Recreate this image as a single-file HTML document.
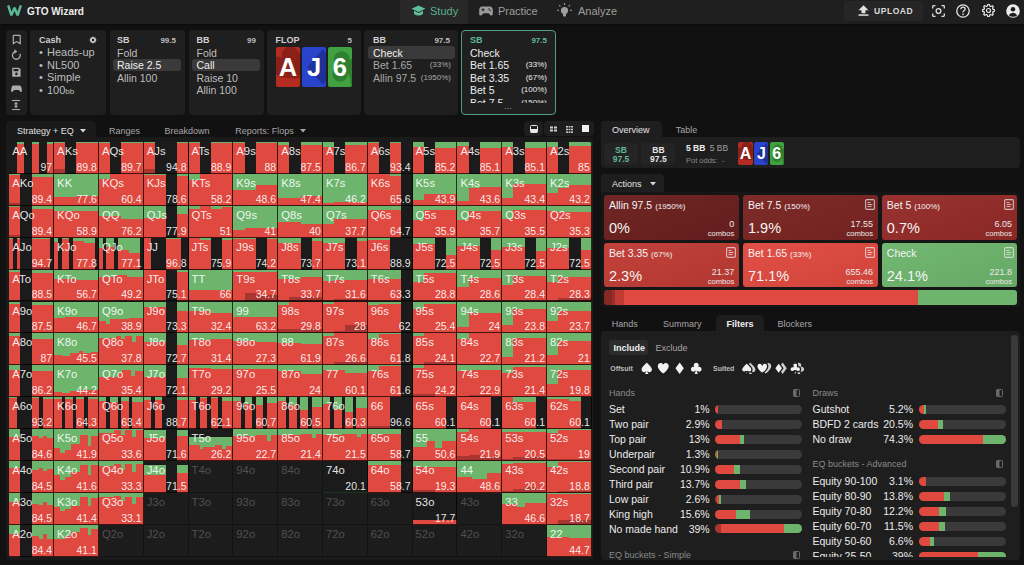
<!DOCTYPE html>
<html><head><meta charset="utf-8">
<style>
*{margin:0;padding:0;box-sizing:border-box}
html,body{width:1024px;height:565px;overflow:hidden;background:#111111;font-family:"Liberation Sans",sans-serif;color:#e6e6e6}
.a{position:absolute}
.hdr{left:0;top:0;width:1024px;height:24px;background:#1f1f1f;box-shadow:0 1px 2px rgba(0,0,0,.5)}
.pnl{background:#1f1f1f;border-radius:4px}
.t11{font-size:11px;line-height:12.5px}
.hl{background:#3a3a3a;border-radius:3px}
.cl{position:absolute;display:flex;overflow:hidden;}
.cl i{display:block;height:100%}.cl::after{content:"";position:absolute;left:0;top:0;right:0;bottom:0;border-right:1px solid rgba(0,0,0,.72);border-bottom:1px solid rgba(0,0,0,.72)}
.cl.e{background:#1c1c1c}
.lb{position:absolute;left:3px;top:4px;font-size:11.3px;line-height:11px;color:rgba(255,255,255,.9)}
.e .lb{color:#505050}.cl.e::after{border-color:rgba(0,0,0,.3)}
.eq{position:absolute;right:2px;bottom:2px;font-size:10.5px;line-height:10px;color:rgba(255,255,255,.9)}
.hd{font-size:9px;font-weight:bold;color:#cfcfcf}
.num{font-size:8px;font-weight:bold;color:#bdbdbd}
.card{position:absolute;border-radius:2px;color:#fff;font-weight:bold;text-align:center;overflow:hidden}
.tile{position:absolute;border-radius:3px;color:#f4f4f4;background-image:linear-gradient(160deg,rgba(255,255,255,.035),rgba(0,0,0,.07))}
.tile .tt{position:absolute;left:5px;top:4.8px;font-size:10.5px;line-height:11px}
.tile .tt small{font-size:8px}
.tile .pc{position:absolute;left:5px;top:26px;font-size:14.5px;line-height:15px}
.tile .cb{position:absolute;right:5px;top:23.5px;font-size:9px;line-height:10px;text-align:right;color:#e8e8e8}.tile .cb small{font-size:7.6px;display:block;line-height:10px}
.tile svg{position:absolute;right:4px;top:4px}
.row{position:absolute;font-size:10.5px;line-height:12px;color:#ececec}
.bar{position:absolute;height:9px;border-radius:4.5px;background:#3a3a3a;overflow:hidden;display:flex}
.bar i{display:block;height:100%}
.sec{position:absolute;font-size:9px;color:#8a8a8a}
</style></head><body>
<!-- header -->
<div class="a hdr"></div>
<svg class="a" style="left:6px;top:4px" width="17" height="13" viewBox="0 0 17 13"><polyline points="2.2,1.3 5.4,11.3 8.5,3.8 11.6,11.3 14.8,1.3" fill="none" stroke="#5bb894" stroke-width="2.5" stroke-linejoin="miter" stroke-miterlimit="2"/></svg>
<div class="a" style="left:27px;top:5.5px;font-size:10px;font-weight:bold;color:#ededed;line-height:11px">GTO Wizard</div>
<div class="a" style="left:400px;top:0;width:68px;height:24px;background:#282828"></div>
<svg class="a" style="left:411px;top:5px" width="15" height="12" viewBox="0 0 15 12"><path d="M7.5 0.5 L14.5 3.8 L7.5 7 L0.5 3.8 Z" fill="#5fbf9c"/><path d="M3 5.8 L3 9 Q7.5 12 12 9 L12 5.8 L7.5 8 Z" fill="#5fbf9c"/></svg>
<div class="a" style="left:430px;top:5px;font-size:11px;line-height:12px;color:#5ab08f">Study</div>
<svg class="a" style="left:479px;top:6px" width="14" height="10" viewBox="0 0 14 10"><path d="M3 0.5 L11 0.5 Q13.5 0.5 13.8 4 L13.8 8 Q13.6 9.8 11.8 9.5 L9.5 7.3 L4.5 7.3 L2.2 9.5 Q0.4 9.8 0.2 8 L0.2 4 Q0.5 0.5 3 0.5 Z" fill="#9a9a9a"/><rect x="2.5" y="3.3" width="3" height="1" fill="#1c1c1c"/><rect x="3.5" y="2.3" width="1" height="3" fill="#1c1c1c"/><circle cx="10" cy="3" r="0.7" fill="#1c1c1c"/><circle cx="11" cy="4.5" r="0.7" fill="#1c1c1c"/></svg>
<div class="a" style="left:498px;top:5px;font-size:11px;line-height:12px;color:#9e9e9e">Practice</div>
<svg class="a" style="left:557px;top:3px" width="15" height="15" viewBox="0 0 15 15"><circle cx="7.5" cy="7.5" r="3.6" fill="#a0a0a0"/><rect x="6" y="10" width="3" height="3.5" rx="0.8" fill="#a0a0a0"/><g stroke="#a0a0a0" stroke-width="1.1"><line x1="7.5" y1="0" x2="7.5" y2="2"/><line x1="2.2" y1="2.2" x2="3.4" y2="3.4"/><line x1="12.8" y1="2.2" x2="11.6" y2="3.4"/><line x1="0" y1="7.3" x2="2" y2="7.3"/><line x1="13" y1="7.3" x2="15" y2="7.3"/></g></svg>
<div class="a" style="left:578px;top:5px;font-size:11px;line-height:12px;color:#9e9e9e">Analyze</div>
<div class="a" style="left:844px;top:1px;width:79px;height:20px;background:#262626;border-radius:3px"></div>
<svg class="a" style="left:858px;top:5px" width="11" height="11" viewBox="0 0 11 11"><path d="M5.5 0.3 L10.5 5.3 L7.5 5.3 L7.5 8.3 L3.5 8.3 L3.5 5.3 L0.5 5.3 Z" fill="#e0e0e0"/><rect x="0.5" y="9.3" width="10" height="1.5" fill="#e0e0e0"/></svg>
<div class="a" style="left:874px;top:5.5px;font-size:8.5px;line-height:10px;font-weight:bold;letter-spacing:0.55px;color:#dcdcdc">UPLOAD</div>
<svg class="a" style="left:932px;top:4.5px" width="13" height="12" viewBox="0 0 13 12"><g fill="none" stroke="#e0e0e0" stroke-width="1.3"><path d="M0.7 3.5 V1.5 Q0.7 0.7 1.5 0.7 H3.5"/><path d="M9.5 0.7 H11.5 Q12.3 0.7 12.3 1.5 V3.5"/><path d="M12.3 8.5 V10.5 Q12.3 11.3 11.5 11.3 H9.5"/><path d="M3.5 11.3 H1.5 Q0.7 11.3 0.7 10.5 V8.5"/><circle cx="6.5" cy="6" r="2.4"/></g></svg>
<svg class="a" style="left:956px;top:4px" width="14" height="14" viewBox="0 0 14 14"><circle cx="7" cy="7" r="6.2" fill="none" stroke="#e6e6e6" stroke-width="1.3"/><path d="M4.9 5.3 Q4.9 3.2 7 3.2 Q9.1 3.2 9.1 5.1 Q9.1 6.3 7.6 7 Q7 7.3 7 8.4" fill="none" stroke="#e6e6e6" stroke-width="1.3"/><circle cx="7" cy="10.4" r="0.8" fill="#e6e6e6"/></svg>
<svg class="a" style="left:981.5px;top:4px" width="13" height="13" viewBox="0 0 13 13"><polygon points="5.89,0.33 7.11,0.33 7.84,2.10 8.67,2.44 10.43,1.71 11.29,2.57 10.56,4.33 10.90,5.16 12.67,5.89 12.67,7.11 10.90,7.84 10.56,8.67 11.29,10.43 10.43,11.29 8.67,10.56 7.84,10.90 7.11,12.67 5.89,12.67 5.16,10.90 4.33,10.56 2.57,11.29 1.71,10.43 2.44,8.67 2.10,7.84 0.33,7.11 0.33,5.89 2.10,5.16 2.44,4.33 1.71,2.57 2.57,1.71 4.33,2.44 5.16,2.10" fill="none" stroke="#e6e6e6" stroke-width="1.2" stroke-linejoin="round"/><circle cx="6.5" cy="6.5" r="2" fill="none" stroke="#e6e6e6" stroke-width="1.2"/></svg>
<svg class="a" style="left:1006px;top:4px" width="14" height="14" viewBox="0 0 14 14"><circle cx="7" cy="7" r="6.8" fill="#ececec"/><circle cx="7" cy="5.2" r="2.3" fill="#1c1c1c"/><path d="M2.8 11.3 Q4 8.7 7 8.7 Q10 8.7 11.2 11.3 Q9.5 12.8 7 12.8 Q4.5 12.8 2.8 11.3 Z" fill="#1c1c1c"/></svg>

<!-- top panels -->
<div class="a pnl" style="left:6px;top:30px;width:20.5px;height:84.5px"></div>
<svg class="a" style="left:11px;top:34px" width="11" height="78" viewBox="0 0 11 78">
 <path d="M2.3 1.9 Q2.3 1.3 2.9 1.3 H8.6 Q9.2 1.3 9.2 1.9 V9.6 L5.75 7.6 L2.3 9.6 Z" fill="none" stroke="#ababab" stroke-width="1.2"/>
 <path d="M8.9 19.7 A3.9 3.9 0 1 1 4.3 17.6" fill="none" stroke="#ababab" stroke-width="1.3"/><path d="M3.2 15.3 L6.4 17.4 L3.6 19.8 Z" fill="#ababab"/>
 <path d="M1.2 34.4 Q1.2 33.8 1.8 33.8 H8 L9.6 35.4 V42.2 Q9.6 42.8 9 42.8 H1.8 Q1.2 42.8 1.2 42.2 Z" fill="#ababab"/><rect x="2.6" y="35" width="4.8" height="2.2" fill="#1f1f1f"/><circle cx="5.4" cy="39.9" r="1.3" fill="#1f1f1f"/>
 <path d="M2.6 51.6 H8.4 Q10.2 51.6 10.6 54 L10.9 56.8 Q10.9 58.2 9.7 58 L7.8 56 H3.2 L1.3 58 Q0.1 58.2 0.1 56.8 L0.4 54 Q0.8 51.6 2.6 51.6 Z" fill="#ababab"/>
 <g stroke="#ababab" stroke-width="1.1" fill="none"><line x1="1" y1="66.5" x2="9" y2="66.5"/><line x1="1" y1="75.5" x2="9" y2="75.5"/><line x1="5" y1="68.5" x2="5" y2="73.5"/></g>
 <path d="M5 67.9 L7.2 70.3 H2.8 Z M5 74.1 L7.2 71.7 H2.8 Z" fill="#ababab"/>
</svg>

<div class="a pnl" style="left:30px;top:30px;width:76px;height:84.5px"></div>
<div class="a hd" style="left:39px;top:35px;line-height:10px">Cash</div>
<svg class="a" style="left:89px;top:36px" width="8" height="8" viewBox="0 0 8 8"><path d="M4 0.3 L5 1.4 L6.6 1.4 L6.6 3 L7.7 4 L6.6 5 L6.6 6.6 L5 6.6 L4 7.7 L3 6.6 L1.4 6.6 L1.4 5 L0.3 4 L1.4 3 L1.4 1.4 L3 1.4 Z" fill="#c8c8c8"/><circle cx="4" cy="4" r="1.2" fill="#1f1f1f"/></svg>
<div class="a t11" style="left:39px;top:46px;color:#bdbdbd">
 <div><span style="display:inline-block;width:8px">&#8226;</span>Heads-up</div>
 <div><span style="display:inline-block;width:8px">&#8226;</span>NL500</div>
 <div><span style="display:inline-block;width:8px">&#8226;</span>Simple</div>
 <div><span style="display:inline-block;width:8px">&#8226;</span>100<span style="font-size:8px">bb</span></div>
</div>

<div class="a pnl" style="left:109.5px;top:30px;width:75.5px;height:84.5px"></div>
<div class="a hd" style="left:117px;top:35px;line-height:10px">SB</div>
<div class="a num" style="left:150px;top:36px;width:26px;text-align:right;line-height:9px">99.5</div>
<div class="a hl" style="left:113px;top:58.7px;width:68px;height:12.5px"></div>
<div class="a t11" style="font-size:10.5px;left:117px;top:46.5px;color:#bdbdbd"><div>Fold</div><div style="color:#f0f0f0">Raise 2.5</div><div>Allin 100</div></div>

<div class="a pnl" style="left:188.5px;top:30px;width:75px;height:84.5px"></div>
<div class="a hd" style="left:196.5px;top:35px;line-height:10px">BB</div>
<div class="a num" style="left:230px;top:36px;width:26px;text-align:right;line-height:9px">99</div>
<div class="a hl" style="left:192px;top:58.7px;width:68px;height:12.5px"></div>
<div class="a t11" style="font-size:10.5px;left:196.5px;top:46.5px;color:#bdbdbd"><div>Fold</div><div style="color:#f0f0f0">Call</div><div>Raise 10</div><div>Allin 100</div></div>

<div class="a pnl" style="left:267.3px;top:30px;width:93.4px;height:84.5px"></div>
<div class="a hd" style="left:275.5px;top:35px;line-height:10px">FLOP</div>
<div class="a num" style="left:330px;top:36px;width:22px;text-align:right;line-height:9px">5</div>
<div class="card" style="left:276px;top:47.3px;width:24px;height:40px;background:#b52c22"><svg style="position:absolute;left:0;top:0" width="24" height="40" viewBox="0 0 24 40" preserveAspectRatio="none"><path d="M12 22 C12 22 1.5 14.5 1.5 8 C1.5 4.5 4 2 7 2 C9.2 2 11 3.3 12 5 C13 3.3 14.8 2 17 2 C20 2 22.5 4.5 22.5 8 C22.5 14.5 12 22 12 22 Z" fill="#8a2018" transform="translate(13 19) rotate(-40) scale(1.6) translate(-12 -12)"/></svg><div style="position:absolute;left:0;width:24px;top:0;height:40px;line-height:40px;font-size:25.5px">A</div></div><div class="card" style="left:302px;top:47.3px;width:24px;height:40px;background:#2a43cc"><svg style="position:absolute;left:0;top:0" width="24" height="40" viewBox="0 0 24 40" preserveAspectRatio="none"><path d="M12 1 L20 12 L12 23 L4 12 Z" fill="#1e3199" transform="translate(20.7 20) scale(1.94 1.6) translate(-12 -12)"/></svg><div style="position:absolute;left:0;width:24px;top:0;height:40px;line-height:40px;font-size:25.5px">J</div></div><div class="card" style="left:327.5px;top:47.3px;width:24.5px;height:40px;background:#3fa13f"><svg style="position:absolute;left:0;top:0" width="24.5" height="40" viewBox="0 0 24 40" preserveAspectRatio="none"><path d="M12 1.5 C9.2 1.5 7.2 3.7 7.2 6.3 C7.2 7.5 7.6 8.5 8.3 9.3 C7.8 9.1 7.2 9 6.5 9 C3.8 9 1.8 11.2 1.8 13.8 C1.8 16.5 3.9 18.6 6.5 18.6 C8.5 18.6 10.2 17.5 11 15.8 C10.8 18.8 10 21 8.5 23 H15.5 C14 21 13.2 18.8 13 15.8 C13.8 17.5 15.5 18.6 17.5 18.6 C20.1 18.6 22.2 16.5 22.2 13.8 C22.2 11.2 20.2 9 17.5 9 C16.8 9 16.2 9.1 15.7 9.3 C16.4 8.5 16.8 7.5 16.8 6.3 C16.8 3.7 14.8 1.5 12 1.5 Z" fill="#2f7f31" transform="translate(18 20) rotate(-30) scale(1.6) translate(-12 -12)"/></svg><div style="position:absolute;left:0;width:24.5px;top:0;height:40px;line-height:40px;font-size:25.5px">6</div></div>

<div class="a pnl" style="left:364px;top:30px;width:93.7px;height:84.5px"></div>
<div class="a hd" style="left:373px;top:35px;line-height:10px">BB</div>
<div class="a num" style="left:420px;top:36px;width:30px;text-align:right;line-height:9px">97.5</div>
<div class="a hl" style="left:368px;top:46.4px;width:87px;height:12.6px"></div>
<div class="a t11" style="font-size:10.5px;left:373px;top:46.5px;color:#a9a9a9;width:78px">
 <div style="color:#f0f0f0">Check</div>
 <div style="display:flex;justify-content:space-between">Bet 1.65<span style="font-size:8px">(33%)</span></div>
 <div style="display:flex;justify-content:space-between">Allin 97.5<span style="font-size:8px">(1950%)</span></div>
</div>

<div class="a" style="left:461px;top:30px;width:95px;height:84.7px;background:#1f1f1f;border:1.5px solid #4f9f86;border-radius:4px"></div>
<div class="a hd" style="left:470px;top:35px;line-height:10px;color:#5fb898">SB</div>
<div class="a num" style="left:515px;top:36px;width:32px;text-align:right;line-height:9px;color:#5fb898">97.5</div>
<div class="a t11" style="font-size:10.5px;left:470px;top:46.5px;color:#ededed;width:77px;height:56.5px;overflow:hidden">
 <div>Check</div>
 <div style="display:flex;justify-content:space-between">Bet 1.65<span style="font-size:8px">(33%)</span></div>
 <div style="display:flex;justify-content:space-between">Bet 3.35<span style="font-size:8px">(67%)</span></div>
 <div style="display:flex;justify-content:space-between">Bet 5<span style="font-size:8px">(100%)</span></div>
 <div style="display:flex;justify-content:space-between">Bet 7.5<span style="font-size:8px">(150%)</span></div>
</div>
<div class="a" style="left:504px;top:102px;font-size:9px;color:#9a9a9a;line-height:8px">...</div>

<!-- left grid area -->
<div class="a" style="left:6px;top:137px;width:586.7px;height:423px;background:#1a1a1a;border-radius:0 4px 4px 4px"></div>
<div class="a" style="left:6px;top:121.3px;width:89.7px;height:17px;background:#1a1a1a;border-radius:4px 4px 0 0"></div>
<div class="a" style="left:17px;top:125.5px;font-size:9px;line-height:10px;color:#e0e0e0">Strategy + EQ</div>
<svg class="a" style="left:80px;top:128.5px" width="6" height="4" viewBox="0 0 6 4"><path d="M0 0 H6 L3 3.5 Z" fill="#d8d8d8"/></svg>
<div class="a" style="left:109px;top:125.5px;font-size:9px;line-height:10px;color:#a6a6a6">Ranges</div>
<div class="a" style="left:164.5px;top:125.5px;font-size:9px;line-height:10px;color:#a6a6a6">Breakdown</div>
<div class="a" style="left:235.3px;top:125.5px;font-size:9px;line-height:10px;color:#a6a6a6">Reports: Flops</div>
<svg class="a" style="left:300px;top:128.5px" width="6" height="4" viewBox="0 0 6 4"><path d="M0 0 H6 L3 3.5 Z" fill="#a6a6a6"/></svg>
<div class="a" style="left:524px;top:121.3px;width:18.5px;height:15px;background:#1e1e1e;border-radius:4px"></div>
<div class="a" style="left:544px;top:121.3px;width:50px;height:15px;background:#1e1e1e;border-radius:4px"></div>
<svg class="a" style="left:529.5px;top:125px" width="8" height="8" viewBox="0 0 8 8"><rect x="0.5" y="0.5" width="7" height="7" rx="1" fill="none" stroke="#e8e8e8" stroke-width="1"/><rect x="0.5" y="4" width="7" height="3.5" fill="#e8e8e8"/></svg>
<svg class="a" style="left:549.5px;top:126px" width="7" height="6" viewBox="0 0 7 6"><g fill="#cfcfcf"><rect x="0" y="0.5" width="3" height="2"/><rect x="4" y="0.5" width="3" height="2"/><rect x="0" y="3.5" width="3" height="2"/><rect x="4" y="3.5" width="3" height="2"/></g></svg>
<svg class="a" style="left:565.5px;top:125.5px" width="7" height="7" viewBox="0 0 7 7"><g fill="#cfcfcf"><rect x="0" y="0" width="7" height="1.5"/><rect x="0" y="2.7" width="7" height="1.5"/><rect x="0" y="5.4" width="7" height="1.5"/></g><g fill="#1e1e1e"><rect x="2" y="0" width="0.6" height="7"/><rect x="4.4" y="0" width="0.6" height="7"/></g></svg>
<svg class="a" style="left:581.5px;top:125px" width="8" height="8" viewBox="0 0 8 8"><rect x="0" y="0" width="7" height="7" fill="#f0f0f0"/></svg>
<div class="a" style="left:9.3px;top:142px;width:582.5px;height:414.7px;border-radius:3px;overflow:hidden;background:#151515">
<div style="position:absolute;left:-9.3px;top:-142px;width:1024px;height:565px">
<div class="cl" style="left:9.30px;top:142.00px;width:44.81px;height:31.90px"><i style="width:16.667%;background:#1b1b1b"></i><i style="width:16.667%;background:linear-gradient(180deg,#6db56d 0.0% 5.0%,#e0493f 5.0% 100.0%)"></i><i style="width:16.667%;background:#1b1b1b"></i><i style="width:16.667%;background:linear-gradient(180deg,#6db56d 0.0% 5.0%,#e0493f 5.0% 100.0%)"></i><i style="width:16.667%;background:#1b1b1b"></i><i style="width:16.667%;background:linear-gradient(180deg,#6db56d 0.0% 5.0%,#e0493f 5.0% 100.0%)"></i><span class="lb">AA</span><span class="eq">97</span></div><div class="cl" style="left:54.11px;top:142.00px;width:44.81px;height:31.90px"><i style="width:25.000%;background:linear-gradient(180deg,#6db56d 0.0% 3.0%,#e0493f 3.0% 85.0%,#a83530 85.0% 100%)"></i><i style="width:25.000%;background:#1b1b1b"></i><i style="width:50.000%;background:linear-gradient(180deg,#6db56d 0.0% 2.0%,#e0493f 2.0% 100.0%)"></i><span class="lb">AKs</span><span class="eq">89.8</span></div><div class="cl" style="left:98.92px;top:142.00px;width:44.81px;height:31.90px"><i style="width:25.000%;background:linear-gradient(180deg,#6db56d 0.0% 4.0%,#e0493f 4.0% 100.0%)"></i><i style="width:25.000%;background:#1b1b1b"></i><i style="width:50.000%;background:linear-gradient(180deg,#6db56d 0.0% 2.0%,#e0493f 2.0% 100.0%)"></i><span class="lb">AQs</span><span class="eq">89.7</span></div><div class="cl" style="left:143.72px;top:142.00px;width:44.81px;height:31.90px"><i style="width:25.000%;background:linear-gradient(180deg,#6db56d 0.0% 2.0%,#e0493f 2.0% 85.0%,#a83530 85.0% 100%)"></i><i style="width:50.000%;background:#1b1b1b"></i><i style="width:25.000%;background:linear-gradient(180deg,#6db56d 0.0% 2.0%,#e0493f 2.0% 100.0%)"></i><span class="lb">AJs</span><span class="eq">94.8</span></div><div class="cl" style="left:188.53px;top:142.00px;width:44.81px;height:31.90px"><i style="width:25.000%;background:linear-gradient(180deg,#6db56d 0.0% 3.0%,#e0493f 3.0% 100.0%)"></i><i style="width:25.000%;background:#1b1b1b"></i><i style="width:50.000%;background:linear-gradient(180deg,#6db56d 0.0% 3.0%,#e0493f 3.0% 100.0%)"></i><span class="lb">ATs</span><span class="eq">88.9</span></div><div class="cl" style="left:233.34px;top:142.00px;width:44.81px;height:31.90px"><i style="width:25.000%;background:linear-gradient(180deg,#6db56d 0.0% 3.0%,#e0493f 3.0% 100.0%)"></i><i style="width:25.000%;background:#1b1b1b"></i><i style="width:50.000%;background:linear-gradient(180deg,#6db56d 0.0% 2.0%,#e0493f 2.0% 100.0%)"></i><span class="lb">A9s</span><span class="eq">88</span></div><div class="cl" style="left:278.15px;top:142.00px;width:44.81px;height:31.90px"><i style="width:25.000%;background:linear-gradient(180deg,#6db56d 0.0% 8.0%,#e0493f 8.0% 100.0%)"></i><i style="width:25.000%;background:#1b1b1b"></i><i style="width:50.000%;background:linear-gradient(180deg,#6db56d 0.0% 8.0%,#e0493f 8.0% 100.0%)"></i><span class="lb">A8s</span><span class="eq">87.5</span></div><div class="cl" style="left:322.95px;top:142.00px;width:44.81px;height:31.90px"><i style="width:25.000%;background:linear-gradient(180deg,#6db56d 0.0% 15.0%,#e0493f 15.0% 100.0%)"></i><i style="width:25.000%;background:#1b1b1b"></i><i style="width:50.000%;background:linear-gradient(180deg,#6db56d 0.0% 10.0%,#e0493f 10.0% 100.0%)"></i><span class="lb">A7s</span><span class="eq">86.7</span></div><div class="cl" style="left:367.76px;top:142.00px;width:44.81px;height:31.90px"><i style="width:25.000%;background:linear-gradient(180deg,#6db56d 0.0% 3.0%,#e0493f 3.0% 100.0%)"></i><i style="width:25.000%;background:#1b1b1b"></i><i style="width:25.000%;background:linear-gradient(180deg,#6db56d 0.0% 3.0%,#e0493f 3.0% 100.0%)"></i><i style="width:25.000%;background:#1b1b1b"></i><span class="lb">A6s</span><span class="eq">93.4</span></div><div class="cl" style="left:412.57px;top:142.00px;width:44.81px;height:31.90px"><i style="width:25.000%;background:linear-gradient(180deg,#6db56d 0.0% 15.0%,#e0493f 15.0% 100.0%)"></i><i style="width:25.000%;background:#1b1b1b"></i><i style="width:50.000%;background:linear-gradient(180deg,#6db56d 0.0% 18.0%,#e0493f 18.0% 100.0%)"></i><span class="lb">A5s</span><span class="eq">85.2</span></div><div class="cl" style="left:457.38px;top:142.00px;width:44.81px;height:31.90px"><i style="width:25.000%;background:linear-gradient(180deg,#6db56d 0.0% 12.0%,#e0493f 12.0% 100.0%)"></i><i style="width:25.000%;background:#1b1b1b"></i><i style="width:50.000%;background:linear-gradient(180deg,#6db56d 0.0% 20.0%,#e0493f 20.0% 100.0%)"></i><span class="lb">A4s</span><span class="eq">85.1</span></div><div class="cl" style="left:502.18px;top:142.00px;width:44.81px;height:31.90px"><i style="width:25.000%;background:linear-gradient(180deg,#6db56d 0.0% 15.0%,#e0493f 15.0% 100.0%)"></i><i style="width:25.000%;background:#1b1b1b"></i><i style="width:50.000%;background:linear-gradient(180deg,#6db56d 0.0% 18.0%,#e0493f 18.0% 100.0%)"></i><span class="lb">A3s</span><span class="eq">85.1</span></div><div class="cl" style="left:546.99px;top:142.00px;width:44.81px;height:31.90px"><i style="width:25.000%;background:linear-gradient(180deg,#6db56d 0.0% 15.0%,#e0493f 15.0% 100.0%)"></i><i style="width:25.000%;background:#1b1b1b"></i><i style="width:50.000%;background:linear-gradient(180deg,#6db56d 0.0% 12.0%,#e0493f 12.0% 100.0%)"></i><span class="lb">A2s</span><span class="eq">85</span></div><div class="cl" style="left:9.30px;top:173.90px;width:44.81px;height:31.90px"><i style="width:25.000%;background:linear-gradient(180deg,#6db56d 0.0% 3.0%,#e0493f 3.0% 92.0%,#a83530 92.0% 100%)"></i><i style="width:25.000%;background:#1b1b1b"></i><i style="width:50.000%;background:linear-gradient(180deg,#6db56d 0.0% 8.0%,#e0493f 8.0% 100.0%)"></i><span class="lb">AKo</span><span class="eq">89.4</span></div><div class="cl" style="left:54.11px;top:173.90px;width:44.81px;height:31.90px"><i style="width:50.000%;background:linear-gradient(180deg,#6db56d 0.0% 72.0%,#e0493f 72.0% 100.0%)"></i><i style="width:50.000%;background:linear-gradient(180deg,#6db56d 0.0% 70.0%,#e0493f 70.0% 100.0%)"></i><span class="lb">KK</span><span class="eq">77.6</span></div><div class="cl" style="left:98.92px;top:173.90px;width:44.81px;height:31.90px"><i style="width:25.000%;background:linear-gradient(180deg,#6db56d 0.0% 15.0%,#e0493f 15.0% 100.0%)"></i><i style="width:75.000%;background:linear-gradient(180deg,#6db56d 0.0% 0.0%,#e0493f 0.0% 100.0%)"></i><span class="lb">KQs</span><span class="eq">60.4</span></div><div class="cl" style="left:143.72px;top:173.90px;width:44.81px;height:31.90px"><i style="width:50.000%;background:linear-gradient(180deg,#6db56d 0.0% 2.0%,#e0493f 2.0% 100.0%)"></i><i style="width:25.000%;background:#1b1b1b"></i><i style="width:25.000%;background:linear-gradient(180deg,#6db56d 0.0% 5.0%,#e0493f 5.0% 100.0%)"></i><span class="lb">KJs</span><span class="eq">78.6</span></div><div class="cl" style="left:188.53px;top:173.90px;width:44.81px;height:31.90px"><i style="width:25.000%;background:linear-gradient(180deg,#6db56d 0.0% 18.0%,#e0493f 18.0% 100.0%)"></i><i style="width:75.000%;background:linear-gradient(180deg,#6db56d 0.0% 0.0%,#e0493f 0.0% 100.0%)"></i><span class="lb">KTs</span><span class="eq">58.2</span></div><div class="cl" style="left:233.34px;top:173.90px;width:44.81px;height:31.90px"><i style="width:50.000%;background:linear-gradient(180deg,#6db56d 0.0% 50.0%,#e0493f 50.0% 100.0%)"></i><i style="width:50.000%;background:linear-gradient(180deg,#6db56d 0.0% 33.0%,#e0493f 33.0% 100.0%)"></i><span class="lb">K9s</span><span class="eq">48.6</span></div><div class="cl" style="left:278.15px;top:173.90px;width:44.81px;height:31.90px"><i style="width:50.000%;background:linear-gradient(180deg,#6db56d 0.0% 75.0%,#e0493f 75.0% 100.0%)"></i><i style="width:50.000%;background:linear-gradient(180deg,#6db56d 0.0% 68.0%,#e0493f 68.0% 100.0%)"></i><span class="lb">K8s</span><span class="eq">47.4</span></div><div class="cl" style="left:322.95px;top:173.90px;width:44.81px;height:31.90px"><i style="width:25.000%;background:linear-gradient(180deg,#6db56d 0.0% 92.0%,#e0493f 92.0% 100.0%)"></i><i style="width:75.000%;background:linear-gradient(180deg,#6db56d 0.0% 88.0%,#e0493f 88.0% 100.0%)"></i><span class="lb">K7s</span><span class="eq">46.2</span></div><div class="cl" style="left:367.76px;top:173.90px;width:44.81px;height:31.90px"><i style="width:50.000%;background:linear-gradient(180deg,#6db56d 0.0% 0.0%,#e0493f 0.0% 100.0%)"></i><i style="width:25.000%;background:linear-gradient(180deg,#6db56d 0.0% 5.0%,#e0493f 5.0% 100.0%)"></i><i style="width:25.000%;background:#1b1b1b"></i><span class="lb">K6s</span><span class="eq">65.6</span></div><div class="cl" style="left:412.57px;top:173.90px;width:44.81px;height:31.90px"><i style="width:25.000%;background:linear-gradient(180deg,#6db56d 0.0% 81.0%,#e0493f 81.0% 100.0%)"></i><i style="width:75.000%;background:linear-gradient(180deg,#6db56d 0.0% 62.0%,#e0493f 62.0% 100.0%)"></i><span class="lb">K5s</span><span class="eq">43.9</span></div><div class="cl" style="left:457.38px;top:173.90px;width:44.81px;height:31.90px"><i style="width:25.000%;background:linear-gradient(180deg,#6db56d 0.0% 85.0%,#e0493f 85.0% 100.0%)"></i><i style="width:25.000%;background:linear-gradient(180deg,#6db56d 0.0% 45.0%,#e0493f 45.0% 100.0%)"></i><i style="width:50.000%;background:linear-gradient(180deg,#6db56d 0.0% 42.0%,#e0493f 42.0% 100.0%)"></i><span class="lb">K4s</span><span class="eq">43.6</span></div><div class="cl" style="left:502.18px;top:173.90px;width:44.81px;height:31.90px"><i style="width:25.000%;background:linear-gradient(180deg,#6db56d 0.0% 74.0%,#e0493f 74.0% 100.0%)"></i><i style="width:75.000%;background:linear-gradient(180deg,#6db56d 0.0% 30.0%,#e0493f 30.0% 100.0%)"></i><span class="lb">K3s</span><span class="eq">43.4</span></div><div class="cl" style="left:546.99px;top:173.90px;width:44.81px;height:31.90px"><i style="width:25.000%;background:linear-gradient(180deg,#6db56d 0.0% 58.0%,#e0493f 58.0% 100.0%)"></i><i style="width:25.000%;background:linear-gradient(180deg,#6db56d 0.0% 45.0%,#e0493f 45.0% 100.0%)"></i><i style="width:50.000%;background:linear-gradient(180deg,#6db56d 0.0% 35.0%,#e0493f 35.0% 100.0%)"></i><span class="lb">K2s</span><span class="eq">43.2</span></div><div class="cl" style="left:9.30px;top:205.80px;width:44.81px;height:31.90px"><i style="width:25.000%;background:linear-gradient(180deg,#6db56d 0.0% 4.0%,#e0493f 4.0% 92.0%,#a83530 92.0% 100%)"></i><i style="width:25.000%;background:#1b1b1b"></i><i style="width:50.000%;background:linear-gradient(180deg,#6db56d 0.0% 8.0%,#e0493f 8.0% 100.0%)"></i><span class="lb">AQo</span><span class="eq">89.4</span></div><div class="cl" style="left:54.11px;top:205.80px;width:44.81px;height:31.90px"><i style="width:50.000%;background:linear-gradient(180deg,#6db56d 0.0% 17.0%,#e0493f 17.0% 100.0%)"></i><i style="width:50.000%;background:linear-gradient(180deg,#6db56d 0.0% 15.0%,#e0493f 15.0% 100.0%)"></i><span class="lb">KQo</span><span class="eq">58.9</span></div><div class="cl" style="left:98.92px;top:205.80px;width:44.81px;height:31.90px"><i style="width:50.000%;background:linear-gradient(180deg,#6db56d 0.0% 30.0%,#e0493f 30.0% 100.0%)"></i><i style="width:50.000%;background:linear-gradient(180deg,#6db56d 0.0% 42.0%,#e0493f 42.0% 100.0%)"></i><span class="lb">QQ</span><span class="eq">76.2</span></div><div class="cl" style="left:143.72px;top:205.80px;width:44.81px;height:31.90px"><i style="width:50.000%;background:linear-gradient(180deg,#6db56d 0.0% 36.0%,#e0493f 36.0% 100.0%)"></i><i style="width:25.000%;background:#1b1b1b"></i><i style="width:25.000%;background:linear-gradient(180deg,#6db56d 0.0% 25.0%,#e0493f 25.0% 100.0%)"></i><span class="lb">QJs</span><span class="eq">77.9</span></div><div class="cl" style="left:188.53px;top:205.80px;width:44.81px;height:31.90px"><i style="width:25.000%;background:linear-gradient(180deg,#6db56d 0.0% 8.0%,#e0493f 8.0% 100.0%)"></i><i style="width:25.000%;background:linear-gradient(180deg,#6db56d 0.0% 0.0%,#e0493f 0.0% 100.0%)"></i><i style="width:25.000%;background:linear-gradient(180deg,#6db56d 0.0% 8.0%,#e0493f 8.0% 100.0%)"></i><i style="width:25.000%;background:linear-gradient(180deg,#6db56d 0.0% 2.0%,#e0493f 2.0% 100.0%)"></i><span class="lb">QTs</span><span class="eq">51</span></div><div class="cl" style="left:233.34px;top:205.80px;width:44.81px;height:31.90px"><i style="width:25.000%;background:linear-gradient(180deg,#6db56d 0.0% 75.0%,#e0493f 75.0% 100.0%)"></i><i style="width:75.000%;background:linear-gradient(180deg,#6db56d 0.0% 68.0%,#e0493f 68.0% 100.0%)"></i><span class="lb">Q9s</span><span class="eq">41</span></div><div class="cl" style="left:278.15px;top:205.80px;width:44.81px;height:31.90px"><i style="width:50.000%;background:linear-gradient(180deg,#6db56d 0.0% 50.0%,#e0493f 50.0% 100.0%)"></i><i style="width:50.000%;background:linear-gradient(180deg,#6db56d 0.0% 55.0%,#e0493f 55.0% 100.0%)"></i><span class="lb">Q8s</span><span class="eq">40</span></div><div class="cl" style="left:322.95px;top:205.80px;width:44.81px;height:31.90px"><i style="width:25.000%;background:linear-gradient(180deg,#6db56d 0.0% 55.0%,#e0493f 55.0% 100.0%)"></i><i style="width:75.000%;background:linear-gradient(180deg,#6db56d 0.0% 40.0%,#e0493f 40.0% 100.0%)"></i><span class="lb">Q7s</span><span class="eq">37.7</span></div><div class="cl" style="left:367.76px;top:205.80px;width:44.81px;height:31.90px"><i style="width:75.000%;background:linear-gradient(180deg,#6db56d 0.0% 12.0%,#e0493f 12.0% 100.0%)"></i><i style="width:25.000%;background:#1b1b1b"></i><span class="lb">Q6s</span><span class="eq">64.7</span></div><div class="cl" style="left:412.57px;top:205.80px;width:44.81px;height:31.90px"><i style="width:25.000%;background:linear-gradient(180deg,#6db56d 0.0% 45.0%,#e0493f 45.0% 100.0%)"></i><i style="width:75.000%;background:linear-gradient(180deg,#6db56d 0.0% 12.0%,#e0493f 12.0% 100.0%)"></i><span class="lb">Q5s</span><span class="eq">35.9</span></div><div class="cl" style="left:457.38px;top:205.80px;width:44.81px;height:31.90px"><i style="width:25.000%;background:linear-gradient(180deg,#6db56d 0.0% 45.0%,#e0493f 45.0% 100.0%)"></i><i style="width:75.000%;background:linear-gradient(180deg,#6db56d 0.0% 15.0%,#e0493f 15.0% 100.0%)"></i><span class="lb">Q4s</span><span class="eq">35.7</span></div><div class="cl" style="left:502.18px;top:205.80px;width:44.81px;height:31.90px"><i style="width:25.000%;background:linear-gradient(180deg,#6db56d 0.0% 42.0%,#e0493f 42.0% 100.0%)"></i><i style="width:75.000%;background:linear-gradient(180deg,#6db56d 0.0% 12.0%,#e0493f 12.0% 100.0%)"></i><span class="lb">Q3s</span><span class="eq">35.5</span></div><div class="cl" style="left:546.99px;top:205.80px;width:44.81px;height:31.90px"><i style="width:25.000%;background:linear-gradient(180deg,#6db56d 0.0% 15.0%,#e0493f 15.0% 100.0%)"></i><i style="width:75.000%;background:linear-gradient(180deg,#6db56d 0.0% 20.0%,#e0493f 20.0% 100.0%)"></i><span class="lb">Q2s</span><span class="eq">35.3</span></div><div class="cl" style="left:9.30px;top:237.70px;width:44.81px;height:31.90px"><i style="width:8.333%;background:linear-gradient(180deg,#6db56d 0.0% 2.0%,#e0493f 2.0% 100.0%)"></i><i style="width:8.333%;background:#1b1b1b"></i><i style="width:8.333%;background:linear-gradient(180deg,#6db56d 0.0% 2.0%,#e0493f 2.0% 100.0%)"></i><i style="width:25.000%;background:#1b1b1b"></i><i style="width:41.667%;background:linear-gradient(180deg,#6db56d 0.0% 2.0%,#e0493f 2.0% 90.0%,#a83530 90.0% 100%)"></i><i style="width:8.333%;background:#1b1b1b"></i><span class="lb">AJo</span><span class="eq">94.7</span></div><div class="cl" style="left:54.11px;top:237.70px;width:44.81px;height:31.90px"><i style="width:8.333%;background:linear-gradient(180deg,#6db56d 0.0% 14.0%,#e0493f 14.0% 100.0%)"></i><i style="width:8.333%;background:#1b1b1b"></i><i style="width:16.667%;background:linear-gradient(180deg,#6db56d 0.0% 4.0%,#e0493f 4.0% 100.0%)"></i><i style="width:8.333%;background:#1b1b1b"></i><i style="width:25.000%;background:linear-gradient(180deg,#6db56d 0.0% 10.0%,#e0493f 10.0% 100.0%)"></i><i style="width:25.000%;background:linear-gradient(180deg,#6db56d 0.0% 17.0%,#e0493f 17.0% 100.0%)"></i><i style="width:8.333%;background:#1b1b1b"></i><span class="lb">KJo</span><span class="eq">77.8</span></div><div class="cl" style="left:98.92px;top:237.70px;width:44.81px;height:31.90px"><i style="width:8.333%;background:linear-gradient(180deg,#6db56d 0.0% 30.0%,#e0493f 30.0% 100.0%)"></i><i style="width:8.333%;background:#1b1b1b"></i><i style="width:16.667%;background:linear-gradient(180deg,#6db56d 0.0% 28.0%,#e0493f 28.0% 100.0%)"></i><i style="width:8.333%;background:#1b1b1b"></i><i style="width:25.000%;background:linear-gradient(180deg,#6db56d 0.0% 38.0%,#e0493f 38.0% 100.0%)"></i><i style="width:25.000%;background:linear-gradient(180deg,#6db56d 0.0% 46.0%,#e0493f 46.0% 100.0%)"></i><i style="width:8.333%;background:#1b1b1b"></i><span class="lb">QJo</span><span class="eq">77.1</span></div><div class="cl" style="left:143.72px;top:237.70px;width:44.81px;height:31.90px"><i style="width:16.667%;background:linear-gradient(180deg,#6db56d 0.0% 0.0%,#e0493f 0.0% 100.0%)"></i><i style="width:33.333%;background:#1b1b1b"></i><i style="width:33.333%;background:linear-gradient(180deg,#6db56d 0.0% 3.0%,#e0493f 3.0% 100.0%)"></i><i style="width:16.667%;background:#1b1b1b"></i><span class="lb">JJ</span><span class="eq">96.8</span></div><div class="cl" style="left:188.53px;top:237.70px;width:44.81px;height:31.90px"><i style="width:25.000%;background:linear-gradient(180deg,#6db56d 0.0% 0.0%,#e0493f 0.0% 100.0%)"></i><i style="width:25.000%;background:linear-gradient(180deg,#6db56d 0.0% 5.0%,#e0493f 5.0% 100.0%)"></i><i style="width:25.000%;background:#1b1b1b"></i><i style="width:25.000%;background:linear-gradient(180deg,#6db56d 0.0% 5.0%,#e0493f 5.0% 100.0%)"></i><span class="lb">JTs</span><span class="eq">75.9</span></div><div class="cl" style="left:233.34px;top:237.70px;width:44.81px;height:31.90px"><i style="width:50.000%;background:linear-gradient(180deg,#6db56d 0.0% 2.0%,#e0493f 2.0% 100.0%)"></i><i style="width:25.000%;background:#1b1b1b"></i><i style="width:25.000%;background:linear-gradient(180deg,#6db56d 0.0% 2.0%,#e0493f 2.0% 100.0%)"></i><span class="lb">J9s</span><span class="eq">74.2</span></div><div class="cl" style="left:278.15px;top:237.70px;width:44.81px;height:31.90px"><i style="width:50.000%;background:linear-gradient(180deg,#6db56d 0.0% 15.0%,#e0493f 15.0% 100.0%)"></i><i style="width:25.000%;background:#1b1b1b"></i><i style="width:25.000%;background:linear-gradient(180deg,#6db56d 0.0% 8.0%,#e0493f 8.0% 100.0%)"></i><span class="lb">J8s</span><span class="eq">73.7</span></div><div class="cl" style="left:322.95px;top:237.70px;width:44.81px;height:31.90px"><i style="width:50.000%;background:linear-gradient(180deg,#6db56d 0.0% 15.0%,#e0493f 15.0% 100.0%)"></i><i style="width:25.000%;background:#1b1b1b"></i><i style="width:25.000%;background:linear-gradient(180deg,#6db56d 0.0% 10.0%,#e0493f 10.0% 100.0%)"></i><span class="lb">J7s</span><span class="eq">73.1</span></div><div class="cl" style="left:367.76px;top:237.70px;width:44.81px;height:31.90px"><i style="width:50.000%;background:linear-gradient(180deg,#6db56d 0.0% 5.0%,#e0493f 5.0% 100.0%)"></i><i style="width:50.000%;background:#1b1b1b"></i><span class="lb">J6s</span><span class="eq">88.9</span></div><div class="cl" style="left:412.57px;top:237.70px;width:44.81px;height:31.90px"><i style="width:50.000%;background:linear-gradient(180deg,#6db56d 0.0% 18.0%,#e0493f 18.0% 100.0%)"></i><i style="width:25.000%;background:#1b1b1b"></i><i style="width:25.000%;background:linear-gradient(180deg,#6db56d 0.0% 52.0%,#e0493f 52.0% 100.0%)"></i><span class="lb">J5s</span><span class="eq">72.5</span></div><div class="cl" style="left:457.38px;top:237.70px;width:44.81px;height:31.90px"><i style="width:50.000%;background:linear-gradient(180deg,#6db56d 0.0% 25.0%,#e0493f 25.0% 100.0%)"></i><i style="width:25.000%;background:#1b1b1b"></i><i style="width:25.000%;background:linear-gradient(180deg,#6db56d 0.0% 38.0%,#e0493f 38.0% 100.0%)"></i><span class="lb">J4s</span><span class="eq">72.5</span></div><div class="cl" style="left:502.18px;top:237.70px;width:44.81px;height:31.90px"><i style="width:50.000%;background:linear-gradient(180deg,#6db56d 0.0% 28.0%,#e0493f 28.0% 100.0%)"></i><i style="width:25.000%;background:#1b1b1b"></i><i style="width:25.000%;background:linear-gradient(180deg,#6db56d 0.0% 42.0%,#e0493f 42.0% 100.0%)"></i><span class="lb">J3s</span><span class="eq">72.5</span></div><div class="cl" style="left:546.99px;top:237.70px;width:44.81px;height:31.90px"><i style="width:50.000%;background:linear-gradient(180deg,#6db56d 0.0% 30.0%,#e0493f 30.0% 100.0%)"></i><i style="width:25.000%;background:#1b1b1b"></i><i style="width:25.000%;background:linear-gradient(180deg,#6db56d 0.0% 38.0%,#e0493f 38.0% 100.0%)"></i><span class="lb">J2s</span><span class="eq">72.5</span></div><div class="cl" style="left:9.30px;top:269.60px;width:44.81px;height:31.90px"><i style="width:25.000%;background:linear-gradient(180deg,#6db56d 0.0% 8.0%,#e0493f 8.0% 100.0%)"></i><i style="width:25.000%;background:#1b1b1b"></i><i style="width:50.000%;background:linear-gradient(180deg,#6db56d 0.0% 10.0%,#e0493f 10.0% 100.0%)"></i><span class="lb">ATo</span><span class="eq">88.5</span></div><div class="cl" style="left:54.11px;top:269.60px;width:44.81px;height:31.90px"><i style="width:50.000%;background:linear-gradient(180deg,#6db56d 0.0% 29.0%,#e0493f 29.0% 100.0%)"></i><i style="width:50.000%;background:linear-gradient(180deg,#6db56d 0.0% 32.0%,#e0493f 32.0% 100.0%)"></i><span class="lb">KTo</span><span class="eq">56.7</span></div><div class="cl" style="left:98.92px;top:269.60px;width:44.81px;height:31.90px"><i style="width:36.364%;background:linear-gradient(180deg,#6db56d 0.0% 21.0%,#e0493f 21.0% 100.0%)"></i><i style="width:27.273%;background:linear-gradient(180deg,#6db56d 0.0% 17.0%,#e0493f 17.0% 97.0%,#a83530 97.0% 100%)"></i><i style="width:36.364%;background:linear-gradient(180deg,#6db56d 0.0% 23.0%,#e0493f 23.0% 100.0%)"></i><span class="lb">QTo</span><span class="eq">49.2</span></div><div class="cl" style="left:143.72px;top:269.60px;width:44.81px;height:31.90px"><i style="width:50.000%;background:linear-gradient(180deg,#6db56d 0.0% 1.0%,#e0493f 1.0% 100.0%)"></i><i style="width:25.000%;background:#1b1b1b"></i><i style="width:25.000%;background:linear-gradient(180deg,#6db56d 0.0% 8.0%,#e0493f 8.0% 100.0%)"></i><span class="lb">JTo</span><span class="eq">75.1</span></div><div class="cl" style="left:188.53px;top:269.60px;width:44.81px;height:31.90px"><i style="width:50.000%;background:linear-gradient(180deg,#6db56d 0.0% 66.0%,#e0493f 66.0% 100.0%)"></i><i style="width:50.000%;background:linear-gradient(180deg,#6db56d 0.0% 64.0%,#e0493f 64.0% 100.0%)"></i><span class="lb">TT</span><span class="eq">66</span></div><div class="cl" style="left:233.34px;top:269.60px;width:44.81px;height:31.90px"><i style="width:25.000%;background:linear-gradient(180deg,#6db56d 0.0% 5.0%,#e0493f 5.0% 100.0%)"></i><i style="width:25.000%;background:linear-gradient(180deg,#6db56d 0.0% 5.0%,#e0493f 5.0% 75.0%,#a83530 75.0% 100%)"></i><i style="width:50.000%;background:linear-gradient(180deg,#6db56d 0.0% 5.0%,#e0493f 5.0% 80.0%,#a83530 80.0% 100%)"></i><span class="lb">T9s</span><span class="eq">34.7</span></div><div class="cl" style="left:278.15px;top:269.60px;width:44.81px;height:31.90px"><i style="width:25.000%;background:linear-gradient(180deg,#6db56d 0.0% 28.0%,#e0493f 28.0% 100.0%)"></i><i style="width:25.000%;background:linear-gradient(180deg,#6db56d 0.0% 28.0%,#e0493f 28.0% 88.0%,#a83530 88.0% 100%)"></i><i style="width:50.000%;background:linear-gradient(180deg,#6db56d 0.0% 22.0%,#e0493f 22.0% 88.0%,#a83530 88.0% 100%)"></i><span class="lb">T8s</span><span class="eq">33.7</span></div><div class="cl" style="left:322.95px;top:269.60px;width:44.81px;height:31.90px"><i style="width:25.000%;background:linear-gradient(180deg,#6db56d 0.0% 36.0%,#e0493f 36.0% 100.0%)"></i><i style="width:75.000%;background:linear-gradient(180deg,#6db56d 0.0% 33.0%,#e0493f 33.0% 95.0%,#a83530 95.0% 100%)"></i><span class="lb">T7s</span><span class="eq">31.6</span></div><div class="cl" style="left:367.76px;top:269.60px;width:44.81px;height:31.90px"><i style="width:75.000%;background:linear-gradient(180deg,#6db56d 0.0% 28.0%,#e0493f 28.0% 100.0%)"></i><i style="width:25.000%;background:#1b1b1b"></i><span class="lb">T6s</span><span class="eq">63.3</span></div><div class="cl" style="left:412.57px;top:269.60px;width:44.81px;height:31.90px"><i style="width:25.000%;background:linear-gradient(180deg,#6db56d 0.0% 40.0%,#e0493f 40.0% 100.0%)"></i><i style="width:75.000%;background:linear-gradient(180deg,#6db56d 0.0% 10.0%,#e0493f 10.0% 100.0%)"></i><span class="lb">T5s</span><span class="eq">28.8</span></div><div class="cl" style="left:457.38px;top:269.60px;width:44.81px;height:31.90px"><i style="width:25.000%;background:linear-gradient(180deg,#6db56d 0.0% 55.0%,#e0493f 55.0% 100.0%)"></i><i style="width:75.000%;background:linear-gradient(180deg,#6db56d 0.0% 25.0%,#e0493f 25.0% 100.0%)"></i><span class="lb">T4s</span><span class="eq">28.6</span></div><div class="cl" style="left:502.18px;top:269.60px;width:44.81px;height:31.90px"><i style="width:25.000%;background:linear-gradient(180deg,#6db56d 0.0% 50.0%,#e0493f 50.0% 100.0%)"></i><i style="width:75.000%;background:linear-gradient(180deg,#6db56d 0.0% 18.0%,#e0493f 18.0% 100.0%)"></i><span class="lb">T3s</span><span class="eq">28.4</span></div><div class="cl" style="left:546.99px;top:269.60px;width:44.81px;height:31.90px"><i style="width:25.000%;background:linear-gradient(180deg,#6db56d 0.0% 40.0%,#e0493f 40.0% 100.0%)"></i><i style="width:75.000%;background:linear-gradient(180deg,#6db56d 0.0% 22.0%,#e0493f 22.0% 90.0%,#a83530 90.0% 100%)"></i><span class="lb">T2s</span><span class="eq">28.3</span></div><div class="cl" style="left:9.30px;top:301.50px;width:44.81px;height:31.90px"><i style="width:25.000%;background:linear-gradient(180deg,#6db56d 0.0% 8.0%,#e0493f 8.0% 100.0%)"></i><i style="width:25.000%;background:#1b1b1b"></i><i style="width:50.000%;background:linear-gradient(180deg,#6db56d 0.0% 10.0%,#e0493f 10.0% 100.0%)"></i><span class="lb">A9o</span><span class="eq">87.5</span></div><div class="cl" style="left:54.11px;top:301.50px;width:44.81px;height:31.90px"><i style="width:25.000%;background:linear-gradient(180deg,#6db56d 0.0% 53.0%,#e0493f 53.0% 100.0%)"></i><i style="width:25.000%;background:linear-gradient(180deg,#6db56d 0.0% 49.0%,#e0493f 49.0% 100.0%)"></i><i style="width:50.000%;background:linear-gradient(180deg,#6db56d 0.0% 47.0%,#e0493f 47.0% 100.0%)"></i><span class="lb">K9o</span><span class="eq">46.7</span></div><div class="cl" style="left:98.92px;top:301.50px;width:44.81px;height:31.90px"><i style="width:16.667%;background:linear-gradient(180deg,#6db56d 0.0% 61.0%,#e0493f 61.0% 100.0%)"></i><i style="width:8.333%;background:linear-gradient(180deg,#6db56d 0.0% 70.0%,#e0493f 70.0% 100.0%)"></i><i style="width:41.667%;background:linear-gradient(180deg,#6db56d 0.0% 55.0%,#e0493f 55.0% 100.0%)"></i><i style="width:33.333%;background:linear-gradient(180deg,#6db56d 0.0% 51.0%,#e0493f 51.0% 100.0%)"></i><span class="lb">Q9o</span><span class="eq">38.9</span></div><div class="cl" style="left:143.72px;top:301.50px;width:44.81px;height:31.90px"><i style="width:50.000%;background:linear-gradient(180deg,#6db56d 0.0% 17.0%,#e0493f 17.0% 100.0%)"></i><i style="width:25.000%;background:#1b1b1b"></i><i style="width:25.000%;background:linear-gradient(180deg,#6db56d 0.0% 30.0%,#e0493f 30.0% 100.0%)"></i><span class="lb">J9o</span><span class="eq">73.3</span></div><div class="cl" style="left:188.53px;top:301.50px;width:44.81px;height:31.90px"><i style="width:50.000%;background:linear-gradient(180deg,#6db56d 0.0% 30.0%,#e0493f 30.0% 100.0%)"></i><i style="width:50.000%;background:linear-gradient(180deg,#6db56d 0.0% 36.0%,#e0493f 36.0% 100.0%)"></i><span class="lb">T9o</span><span class="eq">32.4</span></div><div class="cl" style="left:233.34px;top:301.50px;width:44.81px;height:31.90px"><i style="width:50.000%;background:linear-gradient(180deg,#6db56d 0.0% 50.0%,#e0493f 50.0% 100.0%)"></i><i style="width:50.000%;background:linear-gradient(180deg,#6db56d 0.0% 47.0%,#e0493f 47.0% 100.0%)"></i><span class="lb">99</span><span class="eq">63.2</span></div><div class="cl" style="left:278.15px;top:301.50px;width:44.81px;height:31.90px"><i style="width:25.000%;background:linear-gradient(180deg,#6db56d 0.0% 11.0%,#e0493f 11.0% 88.0%,#a83530 88.0% 100%)"></i><i style="width:75.000%;background:linear-gradient(180deg,#6db56d 0.0% 0.0%,#e0493f 0.0% 88.0%,#a83530 88.0% 100%)"></i><span class="lb">98s</span><span class="eq">29.8</span></div><div class="cl" style="left:322.95px;top:301.50px;width:44.81px;height:31.90px"><i style="width:25.000%;background:linear-gradient(180deg,#6db56d 0.0% 5.0%,#e0493f 5.0% 100.0%)"></i><i style="width:25.000%;background:linear-gradient(180deg,#6db56d 0.0% 0.0%,#e0493f 0.0% 92.0%,#a83530 92.0% 100%)"></i><i style="width:50.000%;background:linear-gradient(180deg,#6db56d 0.0% 0.0%,#e0493f 0.0% 75.0%,#a83530 75.0% 100%)"></i><span class="lb">97s</span><span class="eq">28</span></div><div class="cl" style="left:367.76px;top:301.50px;width:44.81px;height:31.90px"><i style="width:25.000%;background:linear-gradient(180deg,#6db56d 0.0% 10.0%,#e0493f 10.0% 100.0%)"></i><i style="width:50.000%;background:linear-gradient(180deg,#6db56d 0.0% 8.0%,#e0493f 8.0% 100.0%)"></i><i style="width:25.000%;background:#1b1b1b"></i><span class="lb">96s</span><span class="eq">62</span></div><div class="cl" style="left:412.57px;top:301.50px;width:44.81px;height:31.90px"><i style="width:25.000%;background:linear-gradient(180deg,#6db56d 0.0% 22.0%,#e0493f 22.0% 100.0%)"></i><i style="width:75.000%;background:linear-gradient(180deg,#6db56d 0.0% 5.0%,#e0493f 5.0% 100.0%)"></i><span class="lb">95s</span><span class="eq">25.4</span></div><div class="cl" style="left:457.38px;top:301.50px;width:44.81px;height:31.90px"><i style="width:25.000%;background:linear-gradient(180deg,#6db56d 0.0% 82.0%,#e0493f 82.0% 100.0%)"></i><i style="width:75.000%;background:linear-gradient(180deg,#6db56d 0.0% 35.0%,#e0493f 35.0% 100.0%)"></i><span class="lb">94s</span><span class="eq">24</span></div><div class="cl" style="left:502.18px;top:301.50px;width:44.81px;height:31.90px"><i style="width:25.000%;background:linear-gradient(180deg,#6db56d 0.0% 75.0%,#e0493f 75.0% 100.0%)"></i><i style="width:75.000%;background:linear-gradient(180deg,#6db56d 0.0% 22.0%,#e0493f 22.0% 100.0%)"></i><span class="lb">93s</span><span class="eq">23.8</span></div><div class="cl" style="left:546.99px;top:301.50px;width:44.81px;height:31.90px"><i style="width:25.000%;background:linear-gradient(180deg,#6db56d 0.0% 60.0%,#e0493f 60.0% 100.0%)"></i><i style="width:75.000%;background:linear-gradient(180deg,#6db56d 0.0% 28.0%,#e0493f 28.0% 100.0%)"></i><span class="lb">92s</span><span class="eq">23.7</span></div><div class="cl" style="left:9.30px;top:333.40px;width:44.81px;height:31.90px"><i style="width:25.000%;background:linear-gradient(180deg,#6db56d 0.0% 10.0%,#e0493f 10.0% 100.0%)"></i><i style="width:25.000%;background:#1b1b1b"></i><i style="width:50.000%;background:linear-gradient(180deg,#6db56d 0.0% 18.0%,#e0493f 18.0% 100.0%)"></i><span class="lb">A8o</span><span class="eq">87</span></div><div class="cl" style="left:54.11px;top:333.40px;width:44.81px;height:31.90px"><i style="width:18.182%;background:linear-gradient(180deg,#6db56d 0.0% 68.0%,#e0493f 68.0% 100.0%)"></i><i style="width:18.182%;background:linear-gradient(180deg,#6db56d 0.0% 72.0%,#e0493f 72.0% 100.0%)"></i><i style="width:18.182%;background:linear-gradient(180deg,#6db56d 0.0% 64.0%,#e0493f 64.0% 100.0%)"></i><i style="width:9.091%;background:linear-gradient(180deg,#6db56d 0.0% 56.0%,#e0493f 56.0% 100.0%)"></i><i style="width:18.182%;background:linear-gradient(180deg,#6db56d 0.0% 62.0%,#e0493f 62.0% 100.0%)"></i><i style="width:18.182%;background:linear-gradient(180deg,#6db56d 0.0% 60.0%,#e0493f 60.0% 100.0%)"></i><span class="lb">K8o</span><span class="eq">45.5</span></div><div class="cl" style="left:98.92px;top:333.40px;width:44.81px;height:31.90px"><i style="width:37.500%;background:linear-gradient(180deg,#6db56d 0.0% 15.0%,#e0493f 15.0% 100.0%)"></i><i style="width:12.500%;background:linear-gradient(180deg,#6db56d 0.0% 10.0%,#e0493f 10.0% 100.0%)"></i><i style="width:8.333%;background:linear-gradient(180deg,#6db56d 0.0% 19.0%,#e0493f 19.0% 100.0%)"></i><i style="width:16.667%;background:linear-gradient(180deg,#6db56d 0.0% 8.0%,#e0493f 8.0% 100.0%)"></i><i style="width:8.333%;background:linear-gradient(180deg,#6db56d 0.0% 29.0%,#e0493f 29.0% 100.0%)"></i><i style="width:16.667%;background:linear-gradient(180deg,#6db56d 0.0% 10.0%,#e0493f 10.0% 100.0%)"></i><span class="lb">Q8o</span><span class="eq">37.8</span></div><div class="cl" style="left:143.72px;top:333.40px;width:44.81px;height:31.90px"><i style="width:50.000%;background:linear-gradient(180deg,#6db56d 0.0% 29.0%,#e0493f 29.0% 100.0%)"></i><i style="width:25.000%;background:#1b1b1b"></i><i style="width:25.000%;background:linear-gradient(180deg,#6db56d 0.0% 39.0%,#e0493f 39.0% 100.0%)"></i><span class="lb">J8o</span><span class="eq">72.7</span></div><div class="cl" style="left:188.53px;top:333.40px;width:44.81px;height:31.90px"><i style="width:50.000%;background:linear-gradient(180deg,#6db56d 0.0% 22.0%,#e0493f 22.0% 100.0%)"></i><i style="width:50.000%;background:linear-gradient(180deg,#6db56d 0.0% 19.0%,#e0493f 19.0% 100.0%)"></i><span class="lb">T8o</span><span class="eq">31.4</span></div><div class="cl" style="left:233.34px;top:333.40px;width:44.81px;height:31.90px"><i style="width:50.000%;background:linear-gradient(180deg,#6db56d 0.0% 25.0%,#e0493f 25.0% 100.0%)"></i><i style="width:50.000%;background:linear-gradient(180deg,#6db56d 0.0% 28.0%,#e0493f 28.0% 100.0%)"></i><span class="lb">98o</span><span class="eq">27.3</span></div><div class="cl" style="left:278.15px;top:333.40px;width:44.81px;height:31.90px"><i style="width:50.000%;background:linear-gradient(180deg,#6db56d 0.0% 30.0%,#e0493f 30.0% 100.0%)"></i><i style="width:50.000%;background:linear-gradient(180deg,#6db56d 0.0% 35.0%,#e0493f 35.0% 100.0%)"></i><span class="lb">88</span><span class="eq">61.9</span></div><div class="cl" style="left:322.95px;top:333.40px;width:44.81px;height:31.90px"><i style="width:25.000%;background:linear-gradient(180deg,#6db56d 0.0% 8.0%,#e0493f 8.0% 100.0%)"></i><i style="width:75.000%;background:linear-gradient(180deg,#6db56d 0.0% 0.0%,#e0493f 0.0% 90.0%,#a83530 90.0% 100%)"></i><span class="lb">87s</span><span class="eq">26.6</span></div><div class="cl" style="left:367.76px;top:333.40px;width:44.81px;height:31.90px"><i style="width:25.000%;background:linear-gradient(180deg,#6db56d 0.0% 18.0%,#e0493f 18.0% 100.0%)"></i><i style="width:50.000%;background:linear-gradient(180deg,#6db56d 0.0% 3.0%,#e0493f 3.0% 100.0%)"></i><i style="width:25.000%;background:#1b1b1b"></i><span class="lb">86s</span><span class="eq">61.8</span></div><div class="cl" style="left:412.57px;top:333.40px;width:44.81px;height:31.90px"><i style="width:25.000%;background:linear-gradient(180deg,#6db56d 0.0% 10.0%,#e0493f 10.0% 100.0%)"></i><i style="width:75.000%;background:linear-gradient(180deg,#6db56d 0.0% 0.0%,#e0493f 0.0% 92.0%,#a83530 92.0% 100%)"></i><span class="lb">85s</span><span class="eq">24.1</span></div><div class="cl" style="left:457.38px;top:333.40px;width:44.81px;height:31.90px"><i style="width:25.000%;background:linear-gradient(180deg,#6db56d 0.0% 20.0%,#e0493f 20.0% 100.0%)"></i><i style="width:75.000%;background:linear-gradient(180deg,#6db56d 0.0% 0.0%,#e0493f 0.0% 100.0%)"></i><span class="lb">84s</span><span class="eq">22.7</span></div><div class="cl" style="left:502.18px;top:333.40px;width:44.81px;height:31.90px"><i style="width:25.000%;background:linear-gradient(180deg,#6db56d 0.0% 75.0%,#e0493f 75.0% 100.0%)"></i><i style="width:75.000%;background:linear-gradient(180deg,#6db56d 0.0% 15.0%,#e0493f 15.0% 100.0%)"></i><span class="lb">83s</span><span class="eq">21.2</span></div><div class="cl" style="left:546.99px;top:333.40px;width:44.81px;height:31.90px"><i style="width:25.000%;background:linear-gradient(180deg,#6db56d 0.0% 70.0%,#e0493f 70.0% 100.0%)"></i><i style="width:75.000%;background:linear-gradient(180deg,#6db56d 0.0% 25.0%,#e0493f 25.0% 100.0%)"></i><span class="lb">82s</span><span class="eq">21</span></div><div class="cl" style="left:9.30px;top:365.30px;width:44.81px;height:31.90px"><i style="width:25.000%;background:linear-gradient(180deg,#6db56d 0.0% 15.0%,#e0493f 15.0% 100.0%)"></i><i style="width:25.000%;background:#1b1b1b"></i><i style="width:50.000%;background:linear-gradient(180deg,#6db56d 0.0% 20.0%,#e0493f 20.0% 100.0%)"></i><span class="lb">A7o</span><span class="eq">86.2</span></div><div class="cl" style="left:54.11px;top:365.30px;width:44.81px;height:31.90px"><i style="width:18.182%;background:linear-gradient(180deg,#6db56d 0.0% 83.0%,#e0493f 83.0% 100.0%)"></i><i style="width:18.182%;background:linear-gradient(180deg,#6db56d 0.0% 88.0%,#e0493f 88.0% 100.0%)"></i><i style="width:18.182%;background:linear-gradient(180deg,#6db56d 0.0% 80.0%,#e0493f 80.0% 100.0%)"></i><i style="width:45.455%;background:linear-gradient(180deg,#6db56d 0.0% 78.0%,#e0493f 78.0% 100.0%)"></i><span class="lb">K7o</span><span class="eq">44.2</span></div><div class="cl" style="left:98.92px;top:365.30px;width:44.81px;height:31.90px"><i style="width:42.857%;background:linear-gradient(180deg,#6db56d 0.0% 37.0%,#e0493f 37.0% 100.0%)"></i><i style="width:9.524%;background:linear-gradient(180deg,#6db56d 0.0% 24.0%,#e0493f 24.0% 100.0%)"></i><i style="width:19.048%;background:linear-gradient(180deg,#6db56d 0.0% 16.0%,#e0493f 16.0% 100.0%)"></i><i style="width:9.524%;background:linear-gradient(180deg,#6db56d 0.0% 33.0%,#e0493f 33.0% 100.0%)"></i><i style="width:19.048%;background:linear-gradient(180deg,#6db56d 0.0% 18.0%,#e0493f 18.0% 100.0%)"></i><span class="lb">Q7o</span><span class="eq">35.4</span></div><div class="cl" style="left:143.72px;top:365.30px;width:44.81px;height:31.90px"><i style="width:50.000%;background:linear-gradient(180deg,#6db56d 0.0% 39.0%,#e0493f 39.0% 100.0%)"></i><i style="width:25.000%;background:#1b1b1b"></i><i style="width:25.000%;background:linear-gradient(180deg,#6db56d 0.0% 41.0%,#e0493f 41.0% 100.0%)"></i><span class="lb">J7o</span><span class="eq">72.1</span></div><div class="cl" style="left:188.53px;top:365.30px;width:44.81px;height:31.90px"><i style="width:50.000%;background:linear-gradient(180deg,#6db56d 0.0% 8.0%,#e0493f 8.0% 100.0%)"></i><i style="width:50.000%;background:linear-gradient(180deg,#6db56d 0.0% 14.0%,#e0493f 14.0% 100.0%)"></i><span class="lb">T7o</span><span class="eq">29.2</span></div><div class="cl" style="left:233.34px;top:365.30px;width:44.81px;height:31.90px"><i style="width:50.000%;background:linear-gradient(180deg,#6db56d 0.0% 11.0%,#e0493f 11.0% 100.0%)"></i><i style="width:50.000%;background:linear-gradient(180deg,#6db56d 0.0% 14.0%,#e0493f 14.0% 100.0%)"></i><span class="lb">97o</span><span class="eq">25.5</span></div><div class="cl" style="left:278.15px;top:365.30px;width:44.81px;height:31.90px"><i style="width:50.000%;background:linear-gradient(180deg,#6db56d 0.0% 19.0%,#e0493f 19.0% 100.0%)"></i><i style="width:50.000%;background:linear-gradient(180deg,#6db56d 0.0% 28.0%,#e0493f 28.0% 100.0%)"></i><span class="lb">87o</span><span class="eq">24</span></div><div class="cl" style="left:322.95px;top:365.30px;width:44.81px;height:31.90px"><i style="width:50.000%;background:linear-gradient(180deg,#6db56d 0.0% 17.0%,#e0493f 17.0% 100.0%)"></i><i style="width:50.000%;background:linear-gradient(180deg,#6db56d 0.0% 25.0%,#e0493f 25.0% 100.0%)"></i><span class="lb">77</span><span class="eq">60.1</span></div><div class="cl" style="left:367.76px;top:365.30px;width:44.81px;height:31.90px"><i style="width:25.000%;background:linear-gradient(180deg,#6db56d 0.0% 18.0%,#e0493f 18.0% 100.0%)"></i><i style="width:50.000%;background:linear-gradient(180deg,#6db56d 0.0% 3.0%,#e0493f 3.0% 100.0%)"></i><i style="width:25.000%;background:#1b1b1b"></i><span class="lb">76s</span><span class="eq">61.6</span></div><div class="cl" style="left:412.57px;top:365.30px;width:44.81px;height:31.90px"><i style="width:25.000%;background:linear-gradient(180deg,#6db56d 0.0% 10.0%,#e0493f 10.0% 90.0%,#a83530 90.0% 100%)"></i><i style="width:25.000%;background:linear-gradient(180deg,#6db56d 0.0% 0.0%,#e0493f 0.0% 90.0%,#a83530 90.0% 100%)"></i><i style="width:50.000%;background:linear-gradient(180deg,#6db56d 0.0% 0.0%,#e0493f 0.0% 100.0%)"></i><span class="lb">75s</span><span class="eq">24.2</span></div><div class="cl" style="left:457.38px;top:365.30px;width:44.81px;height:31.90px"><i style="width:25.000%;background:linear-gradient(180deg,#6db56d 0.0% 20.0%,#e0493f 20.0% 100.0%)"></i><i style="width:50.000%;background:linear-gradient(180deg,#6db56d 0.0% 15.0%,#e0493f 15.0% 95.0%,#a83530 95.0% 100%)"></i><i style="width:25.000%;background:linear-gradient(180deg,#6db56d 0.0% 15.0%,#e0493f 15.0% 100.0%)"></i><span class="lb">74s</span><span class="eq">22.9</span></div><div class="cl" style="left:502.18px;top:365.30px;width:44.81px;height:31.90px"><i style="width:25.000%;background:linear-gradient(180deg,#6db56d 0.0% 25.0%,#e0493f 25.0% 100.0%)"></i><i style="width:75.000%;background:linear-gradient(180deg,#6db56d 0.0% 5.0%,#e0493f 5.0% 100.0%)"></i><span class="lb">73s</span><span class="eq">21.4</span></div><div class="cl" style="left:546.99px;top:365.30px;width:44.81px;height:31.90px"><i style="width:25.000%;background:linear-gradient(180deg,#6db56d 0.0% 60.0%,#e0493f 60.0% 100.0%)"></i><i style="width:75.000%;background:linear-gradient(180deg,#6db56d 0.0% 15.0%,#e0493f 15.0% 100.0%)"></i><span class="lb">72s</span><span class="eq">19.8</span></div><div class="cl" style="left:9.30px;top:397.20px;width:44.81px;height:31.90px"><i style="width:16.667%;background:linear-gradient(180deg,#6db56d 0.0% 3.0%,#e0493f 3.0% 100.0%)"></i><i style="width:33.333%;background:#1b1b1b"></i><i style="width:16.667%;background:linear-gradient(180deg,#6db56d 0.0% 3.0%,#e0493f 3.0% 100.0%)"></i><i style="width:8.333%;background:#1b1b1b"></i><i style="width:25.000%;background:linear-gradient(180deg,#6db56d 0.0% 5.0%,#e0493f 5.0% 100.0%)"></i><span class="lb">A6o</span><span class="eq">93.2</span></div><div class="cl" style="left:54.11px;top:397.20px;width:44.81px;height:31.90px"><i style="width:16.667%;background:linear-gradient(180deg,#6db56d 0.0% 5.0%,#e0493f 5.0% 100.0%)"></i><i style="width:8.333%;background:#1b1b1b"></i><i style="width:16.667%;background:linear-gradient(180deg,#6db56d 0.0% 5.0%,#e0493f 5.0% 100.0%)"></i><i style="width:8.333%;background:#1b1b1b"></i><i style="width:16.667%;background:linear-gradient(180deg,#6db56d 0.0% 5.0%,#e0493f 5.0% 100.0%)"></i><i style="width:8.333%;background:#1b1b1b"></i><i style="width:25.000%;background:linear-gradient(180deg,#6db56d 0.0% 5.0%,#e0493f 5.0% 100.0%)"></i><span class="lb">K6o</span><span class="eq">64.3</span></div><div class="cl" style="left:98.92px;top:397.20px;width:44.81px;height:31.90px"><i style="width:16.667%;background:linear-gradient(180deg,#6db56d 0.0% 12.0%,#e0493f 12.0% 100.0%)"></i><i style="width:8.333%;background:#1b1b1b"></i><i style="width:16.667%;background:linear-gradient(180deg,#6db56d 0.0% 15.0%,#e0493f 15.0% 100.0%)"></i><i style="width:8.333%;background:#1b1b1b"></i><i style="width:16.667%;background:linear-gradient(180deg,#6db56d 0.0% 12.0%,#e0493f 12.0% 100.0%)"></i><i style="width:8.333%;background:#1b1b1b"></i><i style="width:25.000%;background:linear-gradient(180deg,#6db56d 0.0% 15.0%,#e0493f 15.0% 100.0%)"></i><span class="lb">Q6o</span><span class="eq">63.4</span></div><div class="cl" style="left:143.72px;top:397.20px;width:44.81px;height:31.90px"><i style="width:16.667%;background:linear-gradient(180deg,#6db56d 0.0% 10.0%,#e0493f 10.0% 100.0%)"></i><i style="width:8.333%;background:#1b1b1b"></i><i style="width:16.667%;background:linear-gradient(180deg,#6db56d 0.0% 8.0%,#e0493f 8.0% 100.0%)"></i><i style="width:33.333%;background:#1b1b1b"></i><i style="width:25.000%;background:linear-gradient(180deg,#6db56d 0.0% 10.0%,#e0493f 10.0% 100.0%)"></i><span class="lb">J6o</span><span class="eq">88.7</span></div><div class="cl" style="left:188.53px;top:397.20px;width:44.81px;height:31.90px"><i style="width:16.667%;background:linear-gradient(180deg,#6db56d 0.0% 8.0%,#e0493f 8.0% 100.0%)"></i><i style="width:8.333%;background:#1b1b1b"></i><i style="width:16.667%;background:linear-gradient(180deg,#6db56d 0.0% 3.0%,#e0493f 3.0% 100.0%)"></i><i style="width:8.333%;background:#1b1b1b"></i><i style="width:16.667%;background:linear-gradient(180deg,#6db56d 0.0% 3.0%,#e0493f 3.0% 100.0%)"></i><i style="width:8.333%;background:#1b1b1b"></i><i style="width:25.000%;background:linear-gradient(180deg,#6db56d 0.0% 12.0%,#e0493f 12.0% 100.0%)"></i><span class="lb">T6o</span><span class="eq">62.1</span></div><div class="cl" style="left:233.34px;top:397.20px;width:44.81px;height:31.90px"><i style="width:16.667%;background:linear-gradient(180deg,#6db56d 0.0% 12.0%,#e0493f 12.0% 100.0%)"></i><i style="width:8.333%;background:#1b1b1b"></i><i style="width:16.667%;background:linear-gradient(180deg,#6db56d 0.0% 22.0%,#e0493f 22.0% 100.0%)"></i><i style="width:8.333%;background:#1b1b1b"></i><i style="width:16.667%;background:linear-gradient(180deg,#6db56d 0.0% 25.0%,#e0493f 25.0% 100.0%)"></i><i style="width:8.333%;background:#1b1b1b"></i><i style="width:25.000%;background:linear-gradient(180deg,#6db56d 0.0% 18.0%,#e0493f 18.0% 100.0%)"></i><span class="lb">96o</span><span class="eq">60.7</span></div><div class="cl" style="left:278.15px;top:397.20px;width:44.81px;height:31.90px"><i style="width:16.667%;background:linear-gradient(180deg,#6db56d 0.0% 14.0%,#e0493f 14.0% 100.0%)"></i><i style="width:8.333%;background:#1b1b1b"></i><i style="width:16.667%;background:linear-gradient(180deg,#6db56d 0.0% 25.0%,#e0493f 25.0% 100.0%)"></i><i style="width:8.333%;background:#1b1b1b"></i><i style="width:16.667%;background:linear-gradient(180deg,#6db56d 0.0% 40.0%,#e0493f 40.0% 100.0%)"></i><i style="width:8.333%;background:#1b1b1b"></i><i style="width:25.000%;background:linear-gradient(180deg,#6db56d 0.0% 30.0%,#e0493f 30.0% 100.0%)"></i><span class="lb">86o</span><span class="eq">60.5</span></div><div class="cl" style="left:322.95px;top:397.20px;width:44.81px;height:31.90px"><i style="width:16.667%;background:linear-gradient(180deg,#6db56d 0.0% 22.0%,#e0493f 22.0% 100.0%)"></i><i style="width:8.333%;background:#1b1b1b"></i><i style="width:16.667%;background:linear-gradient(180deg,#6db56d 0.0% 37.0%,#e0493f 37.0% 100.0%)"></i><i style="width:8.333%;background:#1b1b1b"></i><i style="width:16.667%;background:linear-gradient(180deg,#6db56d 0.0% 48.0%,#e0493f 48.0% 100.0%)"></i><i style="width:8.333%;background:#1b1b1b"></i><i style="width:25.000%;background:linear-gradient(180deg,#6db56d 0.0% 34.0%,#e0493f 34.0% 100.0%)"></i><span class="lb">76o</span><span class="eq">60.3</span></div><div class="cl" style="left:367.76px;top:397.20px;width:44.81px;height:31.90px"><i style="width:50.000%;background:linear-gradient(180deg,#6db56d 0.0% 0.0%,#e0493f 0.0% 90.0%,#a83530 90.0% 100%)"></i><i style="width:50.000%;background:#1b1b1b"></i><span class="lb">66</span><span class="eq">96.6</span></div><div class="cl" style="left:412.57px;top:397.20px;width:44.81px;height:31.90px"><i style="width:75.000%;background:linear-gradient(180deg,#6db56d 0.0% 0.0%,#e0493f 0.0% 100.0%)"></i><i style="width:25.000%;background:#1b1b1b"></i><span class="lb">65s</span><span class="eq">60.1</span></div><div class="cl" style="left:457.38px;top:397.20px;width:44.81px;height:31.90px"><i style="width:75.000%;background:linear-gradient(180deg,#6db56d 0.0% 0.0%,#e0493f 0.0% 100.0%)"></i><i style="width:25.000%;background:#1b1b1b"></i><span class="lb">64s</span><span class="eq">60.1</span></div><div class="cl" style="left:502.18px;top:397.20px;width:44.81px;height:31.90px"><i style="width:25.000%;background:linear-gradient(180deg,#6db56d 0.0% 0.0%,#e0493f 0.0% 100.0%)"></i><i style="width:50.000%;background:linear-gradient(180deg,#6db56d 0.0% 15.0%,#e0493f 15.0% 100.0%)"></i><i style="width:25.000%;background:#1b1b1b"></i><span class="lb">63s</span><span class="eq">60.1</span></div><div class="cl" style="left:546.99px;top:397.20px;width:44.81px;height:31.90px"><i style="width:50.000%;background:linear-gradient(180deg,#6db56d 0.0% 5.0%,#e0493f 5.0% 100.0%)"></i><i style="width:25.000%;background:linear-gradient(180deg,#6db56d 0.0% 12.0%,#e0493f 12.0% 100.0%)"></i><i style="width:25.000%;background:#1b1b1b"></i><span class="lb">62s</span><span class="eq">60.1</span></div><div class="cl" style="left:9.30px;top:429.10px;width:44.81px;height:31.90px"><i style="width:25.000%;background:linear-gradient(180deg,#6db56d 0.0% 25.0%,#e0493f 25.0% 100.0%)"></i><i style="width:25.000%;background:#1b1b1b"></i><i style="width:16.667%;background:linear-gradient(180deg,#6db56d 0.0% 23.0%,#e0493f 23.0% 100.0%)"></i><i style="width:8.333%;background:linear-gradient(180deg,#6db56d 0.0% 28.0%,#e0493f 28.0% 100.0%)"></i><i style="width:8.333%;background:linear-gradient(180deg,#6db56d 0.0% 21.0%,#e0493f 21.0% 100.0%)"></i><i style="width:16.667%;background:linear-gradient(180deg,#6db56d 0.0% 27.0%,#e0493f 27.0% 100.0%)"></i><span class="lb">A5o</span><span class="eq">84.6</span></div><div class="cl" style="left:54.11px;top:429.10px;width:44.81px;height:31.90px"><i style="width:12.500%;background:linear-gradient(180deg,#6db56d 0.0% 60.0%,#e0493f 60.0% 100.0%)"></i><i style="width:12.500%;background:linear-gradient(180deg,#6db56d 0.0% 74.0%,#e0493f 74.0% 100.0%)"></i><i style="width:12.500%;background:linear-gradient(180deg,#6db56d 0.0% 65.0%,#e0493f 65.0% 100.0%)"></i><i style="width:20.833%;background:linear-gradient(180deg,#6db56d 0.0% 46.0%,#e0493f 46.0% 100.0%)"></i><i style="width:16.667%;background:linear-gradient(180deg,#6db56d 0.0% 19.0%,#e0493f 19.0% 100.0%)"></i><i style="width:8.333%;background:linear-gradient(180deg,#6db56d 0.0% 52.0%,#e0493f 52.0% 100.0%)"></i><i style="width:16.667%;background:linear-gradient(180deg,#6db56d 0.0% 23.0%,#e0493f 23.0% 100.0%)"></i><span class="lb">K5o</span><span class="eq">41.9</span></div><div class="cl" style="left:98.92px;top:429.10px;width:44.81px;height:31.90px"><i style="width:33.333%;background:linear-gradient(180deg,#6db56d 0.0% 14.0%,#e0493f 14.0% 100.0%)"></i><i style="width:16.667%;background:linear-gradient(180deg,#6db56d 0.0% 4.0%,#e0493f 4.0% 100.0%)"></i><i style="width:8.333%;background:linear-gradient(180deg,#6db56d 0.0% 19.0%,#e0493f 19.0% 100.0%)"></i><i style="width:16.667%;background:linear-gradient(180deg,#6db56d 0.0% 4.0%,#e0493f 4.0% 100.0%)"></i><i style="width:8.333%;background:linear-gradient(180deg,#6db56d 0.0% 25.0%,#e0493f 25.0% 100.0%)"></i><i style="width:16.667%;background:linear-gradient(180deg,#6db56d 0.0% 4.0%,#e0493f 4.0% 100.0%)"></i><span class="lb">Q5o</span><span class="eq">33.6</span></div><div class="cl" style="left:143.72px;top:429.10px;width:44.81px;height:31.90px"><i style="width:50.000%;background:linear-gradient(180deg,#1b1b1b 0 3.0%,#6db56d 3.0% 27.2%,#e0493f 27.2% 100.0%)"></i><i style="width:25.000%;background:#1b1b1b"></i><i style="width:25.000%;background:linear-gradient(180deg,#1b1b1b 0 3.0%,#6db56d 3.0% 22.4%,#e0493f 22.4% 100.0%)"></i><span class="lb">J5o</span><span class="eq">71.6</span></div><div class="cl" style="left:188.53px;top:429.10px;width:44.81px;height:31.90px"><i style="width:25.000%;background:linear-gradient(180deg,#1b1b1b 0 25.0%,#6db56d 25.0% 49.8%,#e0493f 49.8% 100.0%)"></i><i style="width:8.333%;background:linear-gradient(180deg,#1b1b1b 0 25.0%,#6db56d 25.0% 64.0%,#e0493f 64.0% 100.0%)"></i><i style="width:25.000%;background:linear-gradient(180deg,#1b1b1b 0 25.0%,#6db56d 25.0% 55.8%,#e0493f 55.8% 100.0%)"></i><i style="width:16.667%;background:linear-gradient(180deg,#1b1b1b 0 25.0%,#6db56d 25.0% 50.5%,#e0493f 50.5% 100.0%)"></i><i style="width:8.333%;background:linear-gradient(180deg,#1b1b1b 0 25.0%,#6db56d 25.0% 61.8%,#e0493f 61.8% 100.0%)"></i><i style="width:16.667%;background:linear-gradient(180deg,#1b1b1b 0 25.0%,#6db56d 25.0% 53.5%,#e0493f 53.5% 100.0%)"></i><span class="lb">T5o</span><span class="eq">26.2</span></div><div class="cl" style="left:233.34px;top:429.10px;width:44.81px;height:31.90px"><i style="width:50.000%;background:linear-gradient(180deg,#6db56d 0.0% 22.0%,#e0493f 22.0% 100.0%)"></i><i style="width:25.000%;background:linear-gradient(180deg,#6db56d 0.0% 19.0%,#e0493f 19.0% 100.0%)"></i><i style="width:10.000%;background:linear-gradient(180deg,#6db56d 0.0% 36.0%,#e0493f 36.0% 100.0%)"></i><i style="width:15.000%;background:linear-gradient(180deg,#6db56d 0.0% 19.0%,#e0493f 19.0% 100.0%)"></i><span class="lb">95o</span><span class="eq">22.7</span></div><div class="cl" style="left:278.15px;top:429.10px;width:44.81px;height:31.90px"><i style="width:50.000%;background:linear-gradient(180deg,#6db56d 0.0% 19.0%,#e0493f 19.0% 100.0%)"></i><i style="width:25.000%;background:linear-gradient(180deg,#6db56d 0.0% 17.0%,#e0493f 17.0% 100.0%)"></i><i style="width:10.000%;background:linear-gradient(180deg,#6db56d 0.0% 28.0%,#e0493f 28.0% 100.0%)"></i><i style="width:15.000%;background:linear-gradient(180deg,#6db56d 0.0% 17.0%,#e0493f 17.0% 100.0%)"></i><span class="lb">85o</span><span class="eq">21.4</span></div><div class="cl" style="left:322.95px;top:429.10px;width:44.81px;height:31.90px"><i style="width:42.857%;background:linear-gradient(180deg,#6db56d 0.0% 19.0%,#e0493f 19.0% 100.0%)"></i><i style="width:33.333%;background:linear-gradient(180deg,#6db56d 0.0% 17.0%,#e0493f 17.0% 100.0%)"></i><i style="width:9.524%;background:linear-gradient(180deg,#6db56d 0.0% 24.0%,#e0493f 24.0% 100.0%)"></i><i style="width:14.286%;background:linear-gradient(180deg,#6db56d 0.0% 17.0%,#e0493f 17.0% 100.0%)"></i><span class="lb">75o</span><span class="eq">21.5</span></div><div class="cl" style="left:367.76px;top:429.10px;width:44.81px;height:31.90px"><i style="width:75.000%;background:linear-gradient(180deg,#6db56d 0.0% 15.0%,#e0493f 15.0% 100.0%)"></i><i style="width:25.000%;background:#1b1b1b"></i><span class="lb">65o</span><span class="eq">58.7</span></div><div class="cl" style="left:412.57px;top:429.10px;width:44.81px;height:31.90px"><i style="width:33.333%;background:linear-gradient(180deg,#6db56d 0.0% 57.0%,#e0493f 57.0% 100.0%)"></i><i style="width:16.667%;background:linear-gradient(180deg,#6db56d 0.0% 39.0%,#e0493f 39.0% 100.0%)"></i><i style="width:16.667%;background:linear-gradient(180deg,#6db56d 0.0% 60.0%,#e0493f 60.0% 100.0%)"></i><i style="width:33.333%;background:linear-gradient(180deg,#6db56d 0.0% 39.0%,#e0493f 39.0% 100.0%)"></i><span class="lb">55</span><span class="eq">50.6</span></div><div class="cl" style="left:457.38px;top:429.10px;width:44.81px;height:31.90px"><i style="width:25.000%;background:linear-gradient(180deg,#6db56d 0.0% 8.0%,#e0493f 8.0% 85.0%,#a83530 85.0% 100%)"></i><i style="width:25.000%;background:linear-gradient(180deg,#6db56d 0.0% 0.0%,#e0493f 0.0% 80.0%,#a83530 80.0% 100%)"></i><i style="width:50.000%;background:linear-gradient(180deg,#6db56d 0.0% 0.0%,#e0493f 0.0% 88.0%,#a83530 88.0% 100%)"></i><span class="lb">54s</span><span class="eq">21.9</span></div><div class="cl" style="left:502.18px;top:429.10px;width:44.81px;height:31.90px"><i style="width:25.000%;background:linear-gradient(180deg,#6db56d 0.0% 10.0%,#e0493f 10.0% 95.0%,#a83530 95.0% 100%)"></i><i style="width:75.000%;background:linear-gradient(180deg,#6db56d 0.0% 8.0%,#e0493f 8.0% 88.0%,#a83530 88.0% 100%)"></i><span class="lb">53s</span><span class="eq">20.5</span></div><div class="cl" style="left:546.99px;top:429.10px;width:44.81px;height:31.90px"><i style="width:25.000%;background:linear-gradient(180deg,#6db56d 0.0% 12.0%,#e0493f 12.0% 95.0%,#a83530 95.0% 100%)"></i><i style="width:75.000%;background:linear-gradient(180deg,#6db56d 0.0% 3.0%,#e0493f 3.0% 95.0%,#a83530 95.0% 100%)"></i><span class="lb">52s</span><span class="eq">19</span></div><div class="cl" style="left:9.30px;top:461.00px;width:44.81px;height:31.90px"><i style="width:25.000%;background:linear-gradient(180deg,#6db56d 0.0% 23.0%,#e0493f 23.0% 100.0%)"></i><i style="width:25.000%;background:#1b1b1b"></i><i style="width:16.667%;background:linear-gradient(180deg,#6db56d 0.0% 29.0%,#e0493f 29.0% 100.0%)"></i><i style="width:8.333%;background:linear-gradient(180deg,#6db56d 0.0% 21.0%,#e0493f 21.0% 100.0%)"></i><i style="width:8.333%;background:linear-gradient(180deg,#6db56d 0.0% 30.0%,#e0493f 30.0% 100.0%)"></i><i style="width:16.667%;background:linear-gradient(180deg,#6db56d 0.0% 25.0%,#e0493f 25.0% 100.0%)"></i><span class="lb">A4o</span><span class="eq">84.5</span></div><div class="cl" style="left:54.11px;top:461.00px;width:44.81px;height:31.90px"><i style="width:12.500%;background:linear-gradient(180deg,#6db56d 0.0% 45.0%,#e0493f 45.0% 100.0%)"></i><i style="width:12.500%;background:linear-gradient(180deg,#6db56d 0.0% 58.0%,#e0493f 58.0% 100.0%)"></i><i style="width:12.500%;background:linear-gradient(180deg,#6db56d 0.0% 50.0%,#e0493f 50.0% 100.0%)"></i><i style="width:20.833%;background:linear-gradient(180deg,#6db56d 0.0% 35.0%,#e0493f 35.0% 100.0%)"></i><i style="width:16.667%;background:linear-gradient(180deg,#6db56d 0.0% 12.0%,#e0493f 12.0% 100.0%)"></i><i style="width:8.333%;background:linear-gradient(180deg,#6db56d 0.0% 43.0%,#e0493f 43.0% 100.0%)"></i><i style="width:16.667%;background:linear-gradient(180deg,#6db56d 0.0% 14.0%,#e0493f 14.0% 100.0%)"></i><span class="lb">K4o</span><span class="eq">41.6</span></div><div class="cl" style="left:98.92px;top:461.00px;width:44.81px;height:31.90px"><i style="width:33.333%;background:linear-gradient(180deg,#6db56d 0.0% 16.0%,#e0493f 16.0% 100.0%)"></i><i style="width:16.667%;background:linear-gradient(180deg,#6db56d 0.0% 10.0%,#e0493f 10.0% 100.0%)"></i><i style="width:8.333%;background:linear-gradient(180deg,#6db56d 0.0% 29.0%,#e0493f 29.0% 100.0%)"></i><i style="width:16.667%;background:linear-gradient(180deg,#6db56d 0.0% 8.0%,#e0493f 8.0% 100.0%)"></i><i style="width:8.333%;background:linear-gradient(180deg,#6db56d 0.0% 35.0%,#e0493f 35.0% 100.0%)"></i><i style="width:16.667%;background:linear-gradient(180deg,#6db56d 0.0% 10.0%,#e0493f 10.0% 100.0%)"></i><span class="lb">Q4o</span><span class="eq">33.3</span></div><div class="cl" style="left:143.72px;top:461.00px;width:44.81px;height:31.90px"><i style="width:50.000%;background:linear-gradient(180deg,#1b1b1b 0 13.0%,#6db56d 13.0% 43.5%,#e0493f 43.5% 100.0%)"></i><i style="width:25.000%;background:#1b1b1b"></i><i style="width:25.000%;background:linear-gradient(180deg,#1b1b1b 0 13.0%,#6db56d 13.0% 37.4%,#e0493f 37.4% 100.0%)"></i><span class="lb">J4o</span><span class="eq">71.5</span></div><div class="cl e" style="left:188.53px;top:461.00px;width:44.81px;height:31.90px"><span class="lb">T4o</span></div><div class="cl e" style="left:233.34px;top:461.00px;width:44.81px;height:31.90px"><span class="lb">94o</span></div><div class="cl e" style="left:278.15px;top:461.00px;width:44.81px;height:31.90px"><span class="lb">84o</span></div><div class="cl" style="left:322.95px;top:461.00px;width:44.81px;height:31.90px"><i style="width:100.000%;background:linear-gradient(180deg,#1b1b1b 0 96.0%,#6db56d 96.0% 100.0%,#e0493f 100.0% 100.0%)"></i><span class="lb">74o</span><span class="eq">20.1</span></div><div class="cl" style="left:367.76px;top:461.00px;width:44.81px;height:31.90px"><i style="width:75.000%;background:linear-gradient(180deg,#6db56d 0.0% 12.0%,#e0493f 12.0% 100.0%)"></i><i style="width:25.000%;background:#1b1b1b"></i><span class="lb">64o</span><span class="eq">58.7</span></div><div class="cl" style="left:412.57px;top:461.00px;width:44.81px;height:31.90px"><i style="width:50.000%;background:linear-gradient(180deg,#6db56d 0.0% 18.0%,#e0493f 18.0% 92.0%,#a83530 92.0% 100%)"></i><i style="width:50.000%;background:linear-gradient(180deg,#6db56d 0.0% 18.0%,#e0493f 18.0% 100.0%)"></i><span class="lb">54o</span><span class="eq">19.3</span></div><div class="cl" style="left:457.38px;top:461.00px;width:44.81px;height:31.90px"><i style="width:33.333%;background:linear-gradient(180deg,#6db56d 0.0% 50.0%,#e0493f 50.0% 100.0%)"></i><i style="width:16.667%;background:linear-gradient(180deg,#6db56d 0.0% 57.0%,#e0493f 57.0% 100.0%)"></i><i style="width:16.667%;background:linear-gradient(180deg,#6db56d 0.0% 56.0%,#e0493f 56.0% 100.0%)"></i><i style="width:33.333%;background:linear-gradient(180deg,#6db56d 0.0% 38.0%,#e0493f 38.0% 100.0%)"></i><span class="lb">44</span><span class="eq">48.6</span></div><div class="cl" style="left:502.18px;top:461.00px;width:44.81px;height:31.90px"><i style="width:25.000%;background:linear-gradient(180deg,#6db56d 0.0% 8.0%,#e0493f 8.0% 95.0%,#a83530 95.0% 100%)"></i><i style="width:25.000%;background:linear-gradient(180deg,#6db56d 0.0% 5.0%,#e0493f 5.0% 88.0%,#a83530 88.0% 100%)"></i><i style="width:25.000%;background:linear-gradient(180deg,#6db56d 0.0% 5.0%,#e0493f 5.0% 80.0%,#a83530 80.0% 100%)"></i><i style="width:25.000%;background:linear-gradient(180deg,#6db56d 0.0% 5.0%,#e0493f 5.0% 90.0%,#a83530 90.0% 100%)"></i><span class="lb">43s</span><span class="eq">20.2</span></div><div class="cl" style="left:546.99px;top:461.00px;width:44.81px;height:31.90px"><i style="width:25.000%;background:linear-gradient(180deg,#6db56d 0.0% 18.0%,#e0493f 18.0% 100.0%)"></i><i style="width:75.000%;background:linear-gradient(180deg,#6db56d 0.0% 3.0%,#e0493f 3.0% 95.0%,#a83530 95.0% 100%)"></i><span class="lb">42s</span><span class="eq">18.8</span></div><div class="cl" style="left:9.30px;top:492.90px;width:44.81px;height:31.90px"><i style="width:25.000%;background:linear-gradient(180deg,#6db56d 0.0% 27.0%,#e0493f 27.0% 100.0%)"></i><i style="width:25.000%;background:#1b1b1b"></i><i style="width:16.667%;background:linear-gradient(180deg,#6db56d 0.0% 33.0%,#e0493f 33.0% 100.0%)"></i><i style="width:8.333%;background:linear-gradient(180deg,#6db56d 0.0% 39.0%,#e0493f 39.0% 100.0%)"></i><i style="width:8.333%;background:linear-gradient(180deg,#6db56d 0.0% 27.0%,#e0493f 27.0% 100.0%)"></i><i style="width:16.667%;background:linear-gradient(180deg,#6db56d 0.0% 39.0%,#e0493f 39.0% 100.0%)"></i><span class="lb">A3o</span><span class="eq">84.5</span></div><div class="cl" style="left:54.11px;top:492.90px;width:44.81px;height:31.90px"><i style="width:12.500%;background:linear-gradient(180deg,#6db56d 0.0% 45.0%,#e0493f 45.0% 100.0%)"></i><i style="width:12.500%;background:linear-gradient(180deg,#6db56d 0.0% 55.0%,#e0493f 55.0% 100.0%)"></i><i style="width:12.500%;background:linear-gradient(180deg,#6db56d 0.0% 50.0%,#e0493f 50.0% 100.0%)"></i><i style="width:20.833%;background:linear-gradient(180deg,#6db56d 0.0% 40.0%,#e0493f 40.0% 100.0%)"></i><i style="width:16.667%;background:linear-gradient(180deg,#6db56d 0.0% 12.0%,#e0493f 12.0% 100.0%)"></i><i style="width:8.333%;background:linear-gradient(180deg,#6db56d 0.0% 42.0%,#e0493f 42.0% 100.0%)"></i><i style="width:16.667%;background:linear-gradient(180deg,#6db56d 0.0% 16.0%,#e0493f 16.0% 100.0%)"></i><span class="lb">K3o</span><span class="eq">41.4</span></div><div class="cl" style="left:98.92px;top:492.90px;width:44.81px;height:31.90px"><i style="width:33.333%;background:linear-gradient(180deg,#6db56d 0.0% 12.0%,#e0493f 12.0% 100.0%)"></i><i style="width:16.667%;background:linear-gradient(180deg,#6db56d 0.0% 10.0%,#e0493f 10.0% 100.0%)"></i><i style="width:8.333%;background:linear-gradient(180deg,#6db56d 0.0% 25.0%,#e0493f 25.0% 100.0%)"></i><i style="width:16.667%;background:linear-gradient(180deg,#6db56d 0.0% 12.0%,#e0493f 12.0% 100.0%)"></i><i style="width:8.333%;background:linear-gradient(180deg,#6db56d 0.0% 35.0%,#e0493f 35.0% 100.0%)"></i><i style="width:16.667%;background:linear-gradient(180deg,#6db56d 0.0% 12.0%,#e0493f 12.0% 100.0%)"></i><span class="lb">Q3o</span><span class="eq">33.1</span></div><div class="cl e" style="left:143.72px;top:492.90px;width:44.81px;height:31.90px"><span class="lb">J3o</span></div><div class="cl e" style="left:188.53px;top:492.90px;width:44.81px;height:31.90px"><span class="lb">T3o</span></div><div class="cl e" style="left:233.34px;top:492.90px;width:44.81px;height:31.90px"><span class="lb">93o</span></div><div class="cl e" style="left:278.15px;top:492.90px;width:44.81px;height:31.90px"><span class="lb">83o</span></div><div class="cl e" style="left:322.95px;top:492.90px;width:44.81px;height:31.90px"><span class="lb">73o</span></div><div class="cl e" style="left:367.76px;top:492.90px;width:44.81px;height:31.90px"><span class="lb">63o</span></div><div class="cl" style="left:412.57px;top:492.90px;width:44.81px;height:31.90px"><i style="width:100.000%;background:linear-gradient(180deg,#1b1b1b 0 83.0%,#6db56d 83.0% 85.5%,#e0493f 85.5% 100.0%)"></i><span class="lb">53o</span><span class="eq">17.7</span></div><div class="cl e" style="left:457.38px;top:492.90px;width:44.81px;height:31.90px"><span class="lb">43o</span></div><div class="cl" style="left:502.18px;top:492.90px;width:44.81px;height:31.90px"><i style="width:33.333%;background:linear-gradient(180deg,#6db56d 0.0% 35.0%,#e0493f 35.0% 100.0%)"></i><i style="width:16.667%;background:linear-gradient(180deg,#6db56d 0.0% 45.0%,#e0493f 45.0% 100.0%)"></i><i style="width:50.000%;background:linear-gradient(180deg,#6db56d 0.0% 30.0%,#e0493f 30.0% 100.0%)"></i><span class="lb">33</span><span class="eq">46.6</span></div><div class="cl" style="left:546.99px;top:492.90px;width:44.81px;height:31.90px"><i style="width:25.000%;background:linear-gradient(180deg,#6db56d 0.0% 3.0%,#e0493f 3.0% 100.0%)"></i><i style="width:75.000%;background:linear-gradient(180deg,#6db56d 0.0% 3.0%,#e0493f 3.0% 85.0%,#a83530 85.0% 100%)"></i><span class="lb">32s</span><span class="eq">18.7</span></div><div class="cl" style="left:9.30px;top:524.80px;width:44.81px;height:31.90px"><i style="width:25.000%;background:linear-gradient(180deg,#6db56d 0.0% 29.0%,#e0493f 29.0% 100.0%)"></i><i style="width:25.000%;background:#1b1b1b"></i><i style="width:16.667%;background:linear-gradient(180deg,#6db56d 0.0% 33.0%,#e0493f 33.0% 100.0%)"></i><i style="width:8.333%;background:linear-gradient(180deg,#6db56d 0.0% 43.0%,#e0493f 43.0% 100.0%)"></i><i style="width:8.333%;background:linear-gradient(180deg,#6db56d 0.0% 29.0%,#e0493f 29.0% 100.0%)"></i><i style="width:16.667%;background:linear-gradient(180deg,#6db56d 0.0% 43.0%,#e0493f 43.0% 100.0%)"></i><span class="lb">A2o</span><span class="eq">84.4</span></div><div class="cl" style="left:54.11px;top:524.80px;width:44.81px;height:31.90px"><i style="width:12.500%;background:linear-gradient(180deg,#6db56d 0.0% 43.0%,#e0493f 43.0% 100.0%)"></i><i style="width:12.500%;background:linear-gradient(180deg,#6db56d 0.0% 45.0%,#e0493f 45.0% 100.0%)"></i><i style="width:12.500%;background:linear-gradient(180deg,#6db56d 0.0% 35.0%,#e0493f 35.0% 100.0%)"></i><i style="width:20.833%;background:linear-gradient(180deg,#6db56d 0.0% 22.0%,#e0493f 22.0% 100.0%)"></i><i style="width:16.667%;background:linear-gradient(180deg,#6db56d 0.0% 8.0%,#e0493f 8.0% 100.0%)"></i><i style="width:8.333%;background:linear-gradient(180deg,#6db56d 0.0% 31.0%,#e0493f 31.0% 100.0%)"></i><i style="width:16.667%;background:linear-gradient(180deg,#6db56d 0.0% 12.0%,#e0493f 12.0% 100.0%)"></i><span class="lb">K2o</span><span class="eq">41.1</span></div><div class="cl e" style="left:98.92px;top:524.80px;width:44.81px;height:31.90px"><span class="lb">Q2o</span></div><div class="cl e" style="left:143.72px;top:524.80px;width:44.81px;height:31.90px"><span class="lb">J2o</span></div><div class="cl e" style="left:188.53px;top:524.80px;width:44.81px;height:31.90px"><span class="lb">T2o</span></div><div class="cl e" style="left:233.34px;top:524.80px;width:44.81px;height:31.90px"><span class="lb">92o</span></div><div class="cl e" style="left:278.15px;top:524.80px;width:44.81px;height:31.90px"><span class="lb">82o</span></div><div class="cl e" style="left:322.95px;top:524.80px;width:44.81px;height:31.90px"><span class="lb">72o</span></div><div class="cl e" style="left:367.76px;top:524.80px;width:44.81px;height:31.90px"><span class="lb">62o</span></div><div class="cl e" style="left:412.57px;top:524.80px;width:44.81px;height:31.90px"><span class="lb">52o</span></div><div class="cl e" style="left:457.38px;top:524.80px;width:44.81px;height:31.90px"><span class="lb">42o</span></div><div class="cl e" style="left:502.18px;top:524.80px;width:44.81px;height:31.90px"><span class="lb">32o</span></div><div class="cl" style="left:546.99px;top:524.80px;width:44.81px;height:31.90px"><i style="width:50.000%;background:linear-gradient(180deg,#6db56d 0.0% 36.0%,#e0493f 36.0% 100.0%)"></i><i style="width:50.000%;background:linear-gradient(180deg,#6db56d 0.0% 40.0%,#e0493f 40.0% 100.0%)"></i><span class="lb">22</span><span class="eq">44.7</span></div>
</div></div>

<!-- right side -->
<div class="a" style="left:601px;top:121px;width:60.7px;height:17px;background:#1e1e1e;border-radius:4px 4px 0 0"></div>
<div class="a" style="left:612px;top:125px;font-size:9px;line-height:10px;color:#e6e6e6">Overview</div>
<div class="a" style="left:675.7px;top:125px;font-size:9px;line-height:10px;color:#a6a6a6">Table</div>
<div class="a" style="left:601px;top:137px;width:419px;height:31px;background:#1e1e1e;border-radius:0 4px 4px 4px"></div>
<div class="a" style="left:604px;top:142.5px;width:34px;height:22px;background:#242424;border-radius:3px"></div>
<div class="a" style="left:604px;top:145.5px;width:34px;text-align:center;font-size:8.5px;line-height:9px;font-weight:bold;color:#5fb898">SB<br>97.5</div>
<div class="a" style="left:641.4px;top:142.5px;width:34px;height:22px;background:#242424;border-radius:3px"></div>
<div class="a" style="left:641.4px;top:145.5px;width:34px;text-align:center;font-size:8.5px;line-height:9px;font-weight:bold;color:#e6e6e6">BB<br>97.5</div>
<div class="a" style="left:686px;top:143.5px;font-size:8.5px;line-height:9px;font-weight:bold;color:#eeeeee">5 BB <span style="color:#a0a0a0;font-weight:normal;margin-left:2px">5 BB</span></div>
<div class="a" style="left:686px;top:155.5px;font-size:7.5px;line-height:9px;color:#8a8a8a">Pot odds: &nbsp;-</div>
<div class="card" style="left:738.4px;top:141.9px;width:14.4px;height:23px;background:#b52c22"><svg style="position:absolute;left:0;top:0" width="14.4" height="23" viewBox="0 0 24 40" preserveAspectRatio="none"><path d="M12 22 C12 22 1.5 14.5 1.5 8 C1.5 4.5 4 2 7 2 C9.2 2 11 3.3 12 5 C13 3.3 14.8 2 17 2 C20 2 22.5 4.5 22.5 8 C22.5 14.5 12 22 12 22 Z" fill="#8a2018" transform="translate(13 19) rotate(-40) scale(1.6) translate(-12 -12)"/></svg><div style="position:absolute;left:0;width:14.4px;top:0;height:23px;line-height:23px;font-size:16px">A</div></div><div class="card" style="left:754.4px;top:141.9px;width:14px;height:23px;background:#2a43cc"><svg style="position:absolute;left:0;top:0" width="14" height="23" viewBox="0 0 24 40" preserveAspectRatio="none"><path d="M12 1 L20 12 L12 23 L4 12 Z" fill="#1e3199" transform="translate(20.7 20) scale(1.94 1.6) translate(-12 -12)"/></svg><div style="position:absolute;left:0;width:14px;top:0;height:23px;line-height:23px;font-size:16px">J</div></div><div class="card" style="left:769.7px;top:141.9px;width:14.1px;height:23px;background:#3fa13f"><svg style="position:absolute;left:0;top:0" width="14.1" height="23" viewBox="0 0 24 40" preserveAspectRatio="none"><path d="M12 1.5 C9.2 1.5 7.2 3.7 7.2 6.3 C7.2 7.5 7.6 8.5 8.3 9.3 C7.8 9.1 7.2 9 6.5 9 C3.8 9 1.8 11.2 1.8 13.8 C1.8 16.5 3.9 18.6 6.5 18.6 C8.5 18.6 10.2 17.5 11 15.8 C10.8 18.8 10 21 8.5 23 H15.5 C14 21 13.2 18.8 13 15.8 C13.8 17.5 15.5 18.6 17.5 18.6 C20.1 18.6 22.2 16.5 22.2 13.8 C22.2 11.2 20.2 9 17.5 9 C16.8 9 16.2 9.1 15.7 9.3 C16.4 8.5 16.8 7.5 16.8 6.3 C16.8 3.7 14.8 1.5 12 1.5 Z" fill="#2f7f31" transform="translate(18 20) rotate(-30) scale(1.6) translate(-12 -12)"/></svg><div style="position:absolute;left:0;width:14.1px;top:0;height:23px;line-height:23px;font-size:16px">6</div></div>

<div class="a" style="left:601px;top:174.4px;width:62.7px;height:18px;background:#1e1e1e;border-radius:4px 4px 0 0"></div>
<div class="a" style="left:612px;top:179px;font-size:9px;line-height:10px;color:#e6e6e6">Actions</div>
<svg class="a" style="left:650px;top:182px" width="6" height="4" viewBox="0 0 6 4"><path d="M0 0 H6 L3 3.5 Z" fill="#d8d8d8"/></svg>
<div class="a" style="left:601px;top:192px;width:419px;height:115.4px;background:#161616;border-radius:0 4px 4px 4px"></div>

<div class="tile" style="left:604px;top:195.3px;width:135.3px;height:44.6px;background-color:#6b1f1e"><div class="tt">Allin 97.5 <small>(1950%)</small></div><div class="pc">0%</div><div class="cb">0<small>combos</small></div></div>
<div class="tile" style="left:743px;top:195.3px;width:135px;height:44.6px;background-color:#7a2422"><div class="tt">Bet 7.5 <small>(150%)</small></div><div class="pc">1.9%</div><div class="cb">17.55<small>combos</small></div><svg width="10" height="11" viewBox="0 0 10 11" style="right:3.2px;top:4.2px"><rect x="0.6" y="0.6" width="8.8" height="9.8" rx="1.3" fill="none" stroke="#e8e8e8" stroke-opacity="0.75" stroke-width="1.1"/><g fill="#e8e8e8" fill-opacity="0.75"><rect x="2.5" y="3" width="3" height="1"/><rect x="2.5" y="5" width="5" height="1"/><rect x="2.5" y="7" width="4" height="1"/></g></svg></div>
<div class="tile" style="left:881.8px;top:195.3px;width:135.2px;height:44.6px;background-color:#942b28"><div class="tt">Bet 5 <small>(100%)</small></div><div class="pc">0.7%</div><div class="cb">6.05<small>combos</small></div><svg width="10" height="11" viewBox="0 0 10 11" style="right:3.2px;top:4.2px"><rect x="0.6" y="0.6" width="8.8" height="9.8" rx="1.3" fill="none" stroke="#e8e8e8" stroke-opacity="0.75" stroke-width="1.1"/><g fill="#e8e8e8" fill-opacity="0.75"><rect x="2.5" y="3" width="3" height="1"/><rect x="2.5" y="5" width="5" height="1"/><rect x="2.5" y="7" width="4" height="1"/></g></svg></div>
<div class="tile" style="left:604px;top:243px;width:135.3px;height:44.2px;background-color:#bf3b34"><div class="tt">Bet 3.35 <small>(67%)</small></div><div class="pc">2.3%</div><div class="cb">21.37<small>combos</small></div><svg width="10" height="11" viewBox="0 0 10 11" style="right:3.2px;top:4.2px"><rect x="0.6" y="0.6" width="8.8" height="9.8" rx="1.3" fill="none" stroke="#e8e8e8" stroke-opacity="0.75" stroke-width="1.1"/><g fill="#e8e8e8" fill-opacity="0.75"><rect x="2.5" y="3" width="3" height="1"/><rect x="2.5" y="5" width="5" height="1"/><rect x="2.5" y="7" width="4" height="1"/></g></svg></div>
<div class="tile" style="left:743px;top:243px;width:135px;height:44.2px;background-color:#e0493f"><div class="tt">Bet 1.65 <small>(33%)</small></div><div class="pc">71.1%</div><div class="cb">655.46<small>combos</small></div><svg width="10" height="11" viewBox="0 0 10 11" style="right:3.2px;top:4.2px"><rect x="0.6" y="0.6" width="8.8" height="9.8" rx="1.3" fill="none" stroke="#e8e8e8" stroke-opacity="0.75" stroke-width="1.1"/><g fill="#e8e8e8" fill-opacity="0.75"><rect x="2.5" y="3" width="3" height="1"/><rect x="2.5" y="5" width="5" height="1"/><rect x="2.5" y="7" width="4" height="1"/></g></svg></div>
<div class="tile" style="left:881.8px;top:243px;width:135.2px;height:44.2px;background-color:#6db56d"><div class="tt">Check</div><div class="pc">24.1%</div><div class="cb">221.8<small>combos</small></div><svg width="10" height="11" viewBox="0 0 10 11" style="right:3.2px;top:4.2px"><rect x="0.6" y="0.6" width="8.8" height="9.8" rx="1.3" fill="none" stroke="#e8e8e8" stroke-opacity="0.75" stroke-width="1.1"/><g fill="#e8e8e8" fill-opacity="0.75"><rect x="2.5" y="3" width="3" height="1"/><rect x="2.5" y="5" width="5" height="1"/><rect x="2.5" y="7" width="4" height="1"/></g></svg></div>
<div class="a" style="left:604px;top:289.8px;width:413px;height:14.8px;border-radius:3px;overflow:hidden;display:flex">
 <i style="display:block;width:7.8px;background:#862824"></i><i style="display:block;width:2.9px;background:#9c2f2b"></i><i style="display:block;width:9.5px;background:#bf3b34"></i><i style="display:block;width:293.6px;background:#e0493f"></i><i style="display:block;flex:1;background:#6db56d"></i>
</div>

<div class="a" style="left:716.2px;top:314.6px;width:48px;height:17px;background:#1e1e1e;border-radius:4px 4px 0 0"></div>
<div class="a" style="left:611.7px;top:318.5px;font-size:9px;line-height:10px;color:#a6a6a6">Hands</div>
<div class="a" style="left:662.9px;top:318.5px;font-size:9px;line-height:10px;color:#a6a6a6">Summary</div>
<div class="a" style="left:726.6px;top:318.5px;font-size:9px;line-height:10px;color:#f0f0f0;font-weight:bold">Filters</div>
<div class="a" style="left:777.4px;top:318.5px;font-size:9px;line-height:10px;color:#a6a6a6">Blockers</div>
<div class="a" style="left:601px;top:331.3px;width:419px;height:229.2px;background:#1e1e1e;border-radius:4px"></div>
<div class="a" style="left:1010.6px;top:335px;width:7.4px;height:172px;background:#3a3a3a;border-radius:3.7px"></div>
<div class="a" style="left:609px;top:340.1px;width:39.2px;height:14.7px;background:#2c2c2c;border-radius:3px"></div>
<div class="a" style="left:613.6px;top:342.5px;font-size:9px;line-height:10px;font-weight:bold;color:#ececec">Include</div>
<div class="a" style="left:655.6px;top:342.5px;font-size:9px;line-height:10px;color:#a6a6a6">Exclude</div>
<div class="a" style="left:610.2px;top:365px;font-size:7px;line-height:8px;font-weight:bold;color:#bdbdbd">Offsuit</div>
<div class="a" style="left:713px;top:365px;font-size:7px;line-height:8px;font-weight:bold;color:#bdbdbd">Suited</div>
<svg class="a" style="left:641px;top:362.3px" width="12" height="13" viewBox="0 0 12 13"><path d="M12 1 C8 6 2 10 2 14.5 C2 17.5 4.5 19.5 7 19.5 C8.8 19.5 10.2 18.7 11 17.5 C10.8 19.8 10 21.5 8.5 23 H15.5 C14 21.5 13.2 19.8 13 17.5 C13.8 18.7 15.2 19.5 17 19.5 C19.5 19.5 22 17.5 22 14.5 C22 10 16 6 12 1 Z" fill="#f2f2f2" transform="translate(-0.5 0) scale(0.5208333333333334)"/></svg><svg class="a" style="left:656.6px;top:362.3px" width="13" height="13" viewBox="0 0 13 13"><path d="M12 22 C12 22 1.5 14.5 1.5 8 C1.5 4.5 4 2 7 2 C9.2 2 11 3.3 12 5 C13 3.3 14.8 2 17 2 C20 2 22.5 4.5 22.5 8 C22.5 14.5 12 22 12 22 Z" fill="#f2f2f2" transform="translate(0 0) scale(0.5208333333333334)"/></svg><svg class="a" style="left:674.6px;top:362.3px" width="10" height="13" viewBox="0 0 10 13"><path d="M12 1 L20 12 L12 23 L4 12 Z" fill="#f2f2f2" transform="translate(-1.6 0) scale(0.5208333333333334)"/></svg><svg class="a" style="left:689.6px;top:362.3px" width="12.5" height="13" viewBox="0 0 12.5 13"><path d="M12 1.5 C9.2 1.5 7.2 3.7 7.2 6.3 C7.2 7.5 7.6 8.5 8.3 9.3 C7.8 9.1 7.2 9 6.5 9 C3.8 9 1.8 11.2 1.8 13.8 C1.8 16.5 3.9 18.6 6.5 18.6 C8.5 18.6 10.2 17.5 11 15.8 C10.8 18.8 10 21 8.5 23 H15.5 C14 21 13.2 18.8 13 15.8 C13.8 17.5 15.5 18.6 17.5 18.6 C20.1 18.6 22.2 16.5 22.2 13.8 C22.2 11.2 20.2 9 17.5 9 C16.8 9 16.2 9.1 15.7 9.3 C16.4 8.5 16.8 7.5 16.8 6.3 C16.8 3.7 14.8 1.5 12 1.5 Z" fill="#f2f2f2" transform="translate(0 0) scale(0.5208333333333334)"/></svg><svg class="a" style="left:740.5px;top:362.3px" width="15" height="13" viewBox="0 0 15 13"><path d="M12 1 C8 6 2 10 2 14.5 C2 17.5 4.5 19.5 7 19.5 C8.8 19.5 10.2 18.7 11 17.5 C10.8 19.8 10 21.5 8.5 23 H15.5 C14 21.5 13.2 19.8 13 17.5 C13.8 18.7 15.2 19.5 17 19.5 C19.5 19.5 22 17.5 22 14.5 C22 10 16 6 12 1 Z" fill="#cfcfcf" transform="translate(3.0 0) scale(0.5208333333333334)"/><path d="M12 1 C8 6 2 10 2 14.5 C2 17.5 4.5 19.5 7 19.5 C8.8 19.5 10.2 18.7 11 17.5 C10.8 19.8 10 21.5 8.5 23 H15.5 C14 21.5 13.2 19.8 13 17.5 C13.8 18.7 15.2 19.5 17 19.5 C19.5 19.5 22 17.5 22 14.5 C22 10 16 6 12 1 Z" fill="#f2f2f2" stroke="#1e1e1e" stroke-width="2.5" transform="translate(-0.5 0) scale(0.5208333333333334)"/></svg><svg class="a" style="left:756px;top:362.3px" width="17" height="13" viewBox="0 0 17 13"><path d="M12 22 C12 22 1.5 14.5 1.5 8 C1.5 4.5 4 2 7 2 C9.2 2 11 3.3 12 5 C13 3.3 14.8 2 17 2 C20 2 22.5 4.5 22.5 8 C22.5 14.5 12 22 12 22 Z" fill="#cfcfcf" transform="translate(3.5 0) scale(0.5208333333333334)"/><path d="M12 22 C12 22 1.5 14.5 1.5 8 C1.5 4.5 4 2 7 2 C9.2 2 11 3.3 12 5 C13 3.3 14.8 2 17 2 C20 2 22.5 4.5 22.5 8 C22.5 14.5 12 22 12 22 Z" fill="#f2f2f2" stroke="#1e1e1e" stroke-width="2.5" transform="translate(0 0) scale(0.5208333333333334)"/></svg><svg class="a" style="left:773.5px;top:362.3px" width="15" height="13" viewBox="0 0 15 13"><path d="M12 1 L20 12 L12 23 L4 12 Z" fill="#cfcfcf" transform="translate(2.4 0) scale(0.5208333333333334)"/><path d="M12 1 L20 12 L12 23 L4 12 Z" fill="#f2f2f2" stroke="#1e1e1e" stroke-width="2.5" transform="translate(-1.6 0) scale(0.5208333333333334)"/></svg><svg class="a" style="left:788.5px;top:362.3px" width="16" height="13" viewBox="0 0 16 13"><path d="M12 1.5 C9.2 1.5 7.2 3.7 7.2 6.3 C7.2 7.5 7.6 8.5 8.3 9.3 C7.8 9.1 7.2 9 6.5 9 C3.8 9 1.8 11.2 1.8 13.8 C1.8 16.5 3.9 18.6 6.5 18.6 C8.5 18.6 10.2 17.5 11 15.8 C10.8 18.8 10 21 8.5 23 H15.5 C14 21 13.2 18.8 13 15.8 C13.8 17.5 15.5 18.6 17.5 18.6 C20.1 18.6 22.2 16.5 22.2 13.8 C22.2 11.2 20.2 9 17.5 9 C16.8 9 16.2 9.1 15.7 9.3 C16.4 8.5 16.8 7.5 16.8 6.3 C16.8 3.7 14.8 1.5 12 1.5 Z" fill="#cfcfcf" transform="translate(3.5 0) scale(0.5208333333333334)"/><path d="M12 1.5 C9.2 1.5 7.2 3.7 7.2 6.3 C7.2 7.5 7.6 8.5 8.3 9.3 C7.8 9.1 7.2 9 6.5 9 C3.8 9 1.8 11.2 1.8 13.8 C1.8 16.5 3.9 18.6 6.5 18.6 C8.5 18.6 10.2 17.5 11 15.8 C10.8 18.8 10 21 8.5 23 H15.5 C14 21 13.2 18.8 13 15.8 C13.8 17.5 15.5 18.6 17.5 18.6 C20.1 18.6 22.2 16.5 22.2 13.8 C22.2 11.2 20.2 9 17.5 9 C16.8 9 16.2 9.1 15.7 9.3 C16.4 8.5 16.8 7.5 16.8 6.3 C16.8 3.7 14.8 1.5 12 1.5 Z" fill="#f2f2f2" stroke="#1e1e1e" stroke-width="2.5" transform="translate(0 0) scale(0.5208333333333334)"/></svg>

<div class="sec" style="left:609px;top:388px;line-height:10px">Hands</div>
<div class="sec" style="left:812.5px;top:388px;line-height:10px">Draws</div>
<div class="sec" style="left:812.5px;top:459px;line-height:10px">EQ buckets - Advanced</div>
<div class="sec" style="left:609px;top:549.5px;line-height:10px">EQ buckets - Simple</div>
<div class="row" style="left:609px;top:403.3px">Set</div><div class="row" style="left:659.7px;top:403.3px;width:50px;text-align:right">1%</div><div class="bar" style="left:715.3px;top:404.8px;width:86.7px"><i style="width:3px;background:#e0493f"></i></div><div class="row" style="left:609px;top:418.2px">Two pair</div><div class="row" style="left:659.7px;top:418.2px;width:50px;text-align:right">2.9%</div><div class="bar" style="left:715.3px;top:419.8px;width:86.7px"><i style="width:7px;background:#e0493f"></i></div><div class="row" style="left:609px;top:433.2px">Top pair</div><div class="row" style="left:659.7px;top:433.2px;width:50px;text-align:right">13%</div><div class="bar" style="left:715.3px;top:434.7px;width:86.7px"><i style="width:25px;background:#e0493f"></i><i style="width:4px;background:#6db56d"></i></div><div class="row" style="left:609px;top:448.1px">Underpair</div><div class="row" style="left:659.7px;top:448.1px;width:50px;text-align:right">1.3%</div><div class="bar" style="left:715.3px;top:449.6px;width:86.7px"><i style="width:1.5px;background:#c0603a"></i><i style="width:1.5px;background:#6db56d"></i></div><div class="row" style="left:609px;top:463.1px">Second pair</div><div class="row" style="left:659.7px;top:463.1px;width:50px;text-align:right">10.9%</div><div class="bar" style="left:715.3px;top:464.6px;width:86.7px"><i style="width:19px;background:#e0493f"></i><i style="width:6px;background:#6db56d"></i></div><div class="row" style="left:609px;top:478.1px">Third pair</div><div class="row" style="left:659.7px;top:478.1px;width:50px;text-align:right">13.7%</div><div class="bar" style="left:715.3px;top:479.6px;width:86.7px"><i style="width:25px;background:#e0493f"></i><i style="width:6px;background:#6db56d"></i></div><div class="row" style="left:609px;top:493.0px">Low pair</div><div class="row" style="left:659.7px;top:493.0px;width:50px;text-align:right">2.6%</div><div class="bar" style="left:715.3px;top:494.5px;width:86.7px"><i style="width:2px;background:#a83530"></i><i style="width:2px;background:#e0493f"></i><i style="width:2px;background:#6db56d"></i></div><div class="row" style="left:609px;top:508.0px">King high</div><div class="row" style="left:659.7px;top:508.0px;width:50px;text-align:right">15.6%</div><div class="bar" style="left:715.3px;top:509.5px;width:86.7px"><i style="width:21px;background:#e0493f"></i><i style="width:14px;background:#6db56d"></i></div><div class="row" style="left:609px;top:522.9px">No made hand</div><div class="row" style="left:659.7px;top:522.9px;width:50px;text-align:right">39%</div><div class="bar" style="left:715.3px;top:524.4px;width:86.7px"><i style="width:6px;background:#a83530"></i><i style="width:63px;background:#e0493f"></i><i style="width:18px;background:#6db56d"></i></div><div class="row" style="left:812.5px;top:403.3px">Gutshot</div><div class="row" style="left:863px;top:403.3px;width:50px;text-align:right">5.2%</div><div class="bar" style="left:919px;top:404.8px;width:87px"><i style="width:5px;background:#e0493f"></i><i style="width:1.5px;background:#6db56d"></i></div><div class="row" style="left:812.5px;top:418.2px">BDFD 2 cards</div><div class="row" style="left:863px;top:418.2px;width:50px;text-align:right">20.5%</div><div class="bar" style="left:919px;top:419.8px;width:87px"><i style="width:19px;background:#e0493f"></i><i style="width:5px;background:#6db56d"></i></div><div class="row" style="left:812.5px;top:433.2px">No draw</div><div class="row" style="left:863px;top:433.2px;width:50px;text-align:right">74.3%</div><div class="bar" style="left:919px;top:434.7px;width:87px"><i style="width:64px;background:#e0493f"></i><i style="width:23px;background:#6db56d"></i></div><div class="a" style="left:805px;top:470px;width:205px;height:87.3px;overflow:hidden"><div style="position:absolute;left:-805px;top:-470px;width:1024px;height:565px"><div class="row" style="left:812.5px;top:475.0px">Equity 90-100</div><div class="row" style="left:863px;top:475.0px;width:50px;text-align:right">3.1%</div><div class="bar" style="left:919px;top:476.5px;width:87px"><i style="width:7px;background:#e0493f"></i></div><div class="row" style="left:812.5px;top:490.0px">Equity 80-90</div><div class="row" style="left:863px;top:490.0px;width:50px;text-align:right">13.8%</div><div class="bar" style="left:919px;top:491.5px;width:87px"><i style="width:25px;background:#e0493f"></i><i style="width:6px;background:#6db56d"></i></div><div class="row" style="left:812.5px;top:505.0px">Equity 70-80</div><div class="row" style="left:863px;top:505.0px;width:50px;text-align:right">12.2%</div><div class="bar" style="left:919px;top:506.5px;width:87px"><i style="width:20px;background:#e0493f"></i><i style="width:7px;background:#6db56d"></i></div><div class="row" style="left:812.5px;top:520.0px">Equity 60-70</div><div class="row" style="left:863px;top:520.0px;width:50px;text-align:right">11.5%</div><div class="bar" style="left:919px;top:521.5px;width:87px"><i style="width:20px;background:#e0493f"></i><i style="width:6px;background:#6db56d"></i></div><div class="row" style="left:812.5px;top:535.0px">Equity 50-60</div><div class="row" style="left:863px;top:535.0px;width:50px;text-align:right">6.6%</div><div class="bar" style="left:919px;top:536.5px;width:87px"><i style="width:11px;background:#e0493f"></i><i style="width:4px;background:#6db56d"></i></div><div class="row" style="left:812.5px;top:550.0px">Equity 25-50</div><div class="row" style="left:863px;top:550.0px;width:50px;text-align:right">39%</div><div class="bar" style="left:919px;top:551.5px;width:87px"><i style="width:59px;background:#e0493f"></i><i style="width:28px;background:#6db56d"></i></div></div></div><svg class="a" style="left:792.5px;top:389px" width="7" height="8" viewBox="0 0 7 8"><rect x="0.5" y="0.5" width="6" height="7" rx="1" fill="none" stroke="#6a6a6a"/><rect x="0.5" y="0.5" width="3" height="7" fill="#6a6a6a"/></svg><svg class="a" style="left:995.5px;top:389px" width="7" height="8" viewBox="0 0 7 8"><rect x="0.5" y="0.5" width="6" height="7" rx="1" fill="none" stroke="#6a6a6a"/><rect x="0.5" y="0.5" width="3" height="7" fill="#6a6a6a"/></svg><svg class="a" style="left:995.5px;top:460px" width="7" height="8" viewBox="0 0 7 8"><rect x="0.5" y="0.5" width="6" height="7" rx="1" fill="none" stroke="#6a6a6a"/><rect x="0.5" y="0.5" width="3" height="7" fill="#6a6a6a"/></svg><svg class="a" style="left:792.5px;top:550.5px" width="7" height="8" viewBox="0 0 7 8"><rect x="0.5" y="0.5" width="6" height="7" rx="1" fill="none" stroke="#6a6a6a"/><rect x="0.5" y="0.5" width="3" height="7" fill="#6a6a6a"/></svg>

</body></html>
